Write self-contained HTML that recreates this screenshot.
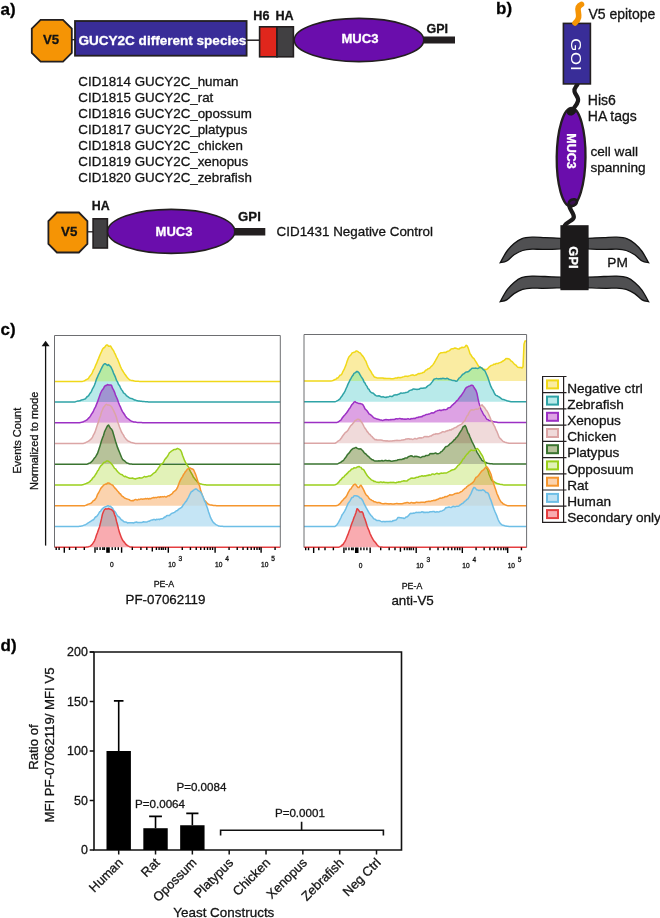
<!DOCTYPE html>
<html><head><meta charset="utf-8"><title>Figure</title>
<style>
html,body{margin:0;padding:0;background:#fff;width:660px;height:918px;overflow:hidden}
svg{display:block}
text{font-family:'Liberation Sans',Arial,Helvetica,sans-serif;fill:#141414;stroke:#141414;stroke-width:0.3px}
.w{stroke:#fff}
.b{font-weight:bold}
.pl{font-weight:bold;font-size:17px;fill:#000}
.w{fill:#fff}
.o{fill:none !important;stroke:#fff;stroke-width:0.75px}
</style></head><body>
<svg width="660" height="918" viewBox="0 0 660 918">
<rect width="660" height="918" fill="#fff"/>
<text x="0.5" y="14.8" class="pl">a)</text>
<line x1="72" y1="39.7" x2="75" y2="39.7" stroke="#231f20" stroke-width="1.3"/>
<line x1="247" y1="40.2" x2="259.5" y2="40.2" stroke="#231f20" stroke-width="1.5"/>
<path d="M40.6,19.8 L63.0,19.8 L71.8,28.6 L71.8,52.8 L63.0,61.6 L40.6,61.6 L31.8,52.8 L31.8,28.6 Z" fill="#f59405" stroke="#231f20" stroke-width="1.8"/>
<text x="51.1" y="44.3" class="b" style="font-size:13.2px" text-anchor="middle">V5</text>
<rect x="75" y="21" width="171.6" height="34.7" fill="#392d98" stroke="#231f20" stroke-width="1.8"/>
<text x="78.4" y="44.5" class="b w" style="font-size:13.55px">GUCY2C different species</text>
<rect x="259.6" y="26.8" width="17.4" height="30" fill="#e0261c" stroke="#231f20" stroke-width="1.6"/>
<rect x="277" y="26.8" width="16.4" height="30" fill="#414042" stroke="#231f20" stroke-width="1.6"/>
<text x="253.3" y="20" class="b" style="font-size:12.6px">H6</text>
<text x="275.5" y="20" class="b" style="font-size:12.6px">HA</text>
<rect x="420" y="36.5" width="35" height="7" fill="#231f20"/>
<ellipse cx="359" cy="40" rx="64.8" ry="21.6" fill="#6a0dac" stroke="#231f20" stroke-width="1.6"/>
<text x="360" y="42.7" class="b w" style="font-size:13.1px" text-anchor="middle">MUC3</text>
<text x="426.5" y="33" class="b" style="font-size:12.5px">GPI</text>
<text x="78.3" y="86.0" style="font-size:13.35px">CID1814 GUCY2C_human</text>
<text x="78.3" y="102.0" style="font-size:13.35px">CID1815 GUCY2C_rat</text>
<text x="78.3" y="118.1" style="font-size:13.35px">CID1816 GUCY2C_opossum</text>
<text x="78.3" y="134.2" style="font-size:13.35px">CID1817 GUCY2C_platypus</text>
<text x="78.3" y="150.2" style="font-size:13.35px">CID1818 GUCY2C_chicken</text>
<text x="78.3" y="166.2" style="font-size:13.35px">CID1819 GUCY2C_xenopus</text>
<text x="78.3" y="182.3" style="font-size:13.35px">CID1820 GUCY2C_zebrafish</text>
<line x1="88" y1="231.8" x2="93" y2="231.8" stroke="#231f20" stroke-width="1.3"/>
<path d="M56.9,212.5 L78.9,212.5 L87.4,221.0 L87.4,244.0 L78.9,252.5 L56.9,252.5 L48.4,244.0 L48.4,221.0 Z" fill="#f59405" stroke="#231f20" stroke-width="1.8"/>
<text x="69.2" y="235.9" class="b" style="font-size:13.3px" text-anchor="middle">V5</text>
<rect x="230" y="228" width="35.3" height="7.5" fill="#231f20"/>
<rect x="93.1" y="218.8" width="14.3" height="29.2" fill="#414042" stroke="#231f20" stroke-width="1.6"/>
<ellipse cx="171.2" cy="231.4" rx="63.6" ry="22" fill="#6a0dac" stroke="#231f20" stroke-width="1.6"/>
<text x="174" y="235.9" class="b w" style="font-size:13px" text-anchor="middle">MUC3</text>
<text x="91.8" y="210.2" class="b" style="font-size:12.4px">HA</text>
<text x="238.1" y="220.5" class="b" style="font-size:13.2px">GPI</text>
<text x="276.6" y="236.3" style="font-size:13.4px">CID1431 Negative Control</text>
<text x="496" y="13.6" class="pl">b)</text>
<path d="M561.00,238.30 C558.33,238.18 549.82,237.78 545.00,237.60 C540.18,237.42 536.02,237.00 532.10,237.20 C528.18,237.40 524.50,237.73 521.50,238.80 C518.50,239.87 516.57,241.48 514.10,243.60 C511.63,245.72 509.00,248.33 506.70,251.50 C504.40,254.67 501.37,260.75 500.30,262.60 L500.30,262.60 C501.37,262.33 504.40,262.32 506.70,261.00 C509.00,259.68 511.45,256.45 514.10,254.70 C516.75,252.95 519.60,251.42 522.60,250.50 C525.60,249.58 528.75,249.38 532.10,249.20 C535.45,249.02 537.88,249.45 542.70,249.40 C547.52,249.35 557.95,248.98 561.00,248.90 Z" fill="#505052" stroke="#111" stroke-width="1.3"/>
<path d="M587.80,238.30 C590.47,238.18 598.98,237.78 603.80,237.60 C608.62,237.42 612.78,237.00 616.70,237.20 C620.62,237.40 624.30,237.73 627.30,238.80 C630.30,239.87 632.23,241.48 634.70,243.60 C637.17,245.72 639.80,248.33 642.10,251.50 C644.40,254.67 647.43,260.75 648.50,262.60 L648.50,262.60 C647.43,262.33 644.40,262.32 642.10,261.00 C639.80,259.68 637.35,256.45 634.70,254.70 C632.05,252.95 629.20,251.42 626.20,250.50 C623.20,249.58 620.05,249.38 616.70,249.20 C613.35,249.02 610.92,249.45 606.10,249.40 C601.28,249.35 590.85,248.98 587.80,248.90 Z" fill="#505052" stroke="#111" stroke-width="1.3"/>
<path d="M561.00,277.20 C558.33,277.08 549.82,276.68 545.00,276.50 C540.18,276.32 536.02,275.90 532.10,276.10 C528.18,276.30 524.50,276.63 521.50,277.70 C518.50,278.77 516.57,280.38 514.10,282.50 C511.63,284.62 509.00,287.23 506.70,290.40 C504.40,293.57 501.37,299.65 500.30,301.50 L500.30,301.50 C501.37,301.23 504.40,301.22 506.70,299.90 C509.00,298.58 511.45,295.35 514.10,293.60 C516.75,291.85 519.60,290.32 522.60,289.40 C525.60,288.48 528.75,288.28 532.10,288.10 C535.45,287.92 537.88,288.35 542.70,288.30 C547.52,288.25 557.95,287.88 561.00,287.80 Z" fill="#505052" stroke="#111" stroke-width="1.3"/>
<path d="M587.80,277.20 C590.47,277.08 598.98,276.68 603.80,276.50 C608.62,276.32 612.78,275.90 616.70,276.10 C620.62,276.30 624.30,276.63 627.30,277.70 C630.30,278.77 632.23,280.38 634.70,282.50 C637.17,284.62 639.80,287.23 642.10,290.40 C644.40,293.57 647.43,299.65 648.50,301.50 L648.50,301.50 C647.43,301.23 644.40,301.22 642.10,299.90 C639.80,298.58 637.35,295.35 634.70,293.60 C632.05,291.85 629.20,290.32 626.20,289.40 C623.20,288.48 620.05,288.28 616.70,288.10 C613.35,287.92 610.92,288.35 606.10,288.30 C601.28,288.25 590.85,287.88 587.80,287.80 Z" fill="#505052" stroke="#111" stroke-width="1.3"/>
<rect x="560.4" y="225.2" width="28.2" height="65" fill="#1c1a1b"/>
<text transform="translate(569,246.2) rotate(90)" class="b w" style="font-size:13px">GPI</text>
<text x="607.3" y="267" style="font-size:13.7px">PM</text>
<path d="M569.3,205 C569,210 574.5,213 573.8,217.5 C573,221 566,222 564.5,226" fill="none" stroke="#1c1a1b" stroke-width="4.2" stroke-linecap="round"/>
<ellipse cx="571.1" cy="157.2" rx="14.4" ry="49.2" fill="#6a0dac" stroke="#231f20" stroke-width="2.3" transform="rotate(0.6 571.1 157.2)"/>
<ellipse cx="572.8" cy="202.6" rx="4.3" ry="3.1" fill="#3a1050" stroke="#1c1a1b" stroke-width="2.6" transform="rotate(-25 572.8 202.6)"/>
<ellipse cx="571.5" cy="111.5" rx="4.2" ry="3" fill="#1c1a1b" stroke="#1c1a1b" stroke-width="1.5" transform="rotate(-25 571.5 111.5)"/>
<text transform="translate(567,133.3) rotate(90)" class="b w" style="font-size:12.5px">MUC3</text>
<path d="M577.7,84 C576,87 573.8,88 574.5,91.5 C575.2,95 579,97 578,101 C577,106 572,109 571,113" fill="none" stroke="#1c1a1b" stroke-width="4.2" stroke-linecap="round"/>
<rect x="563.4" y="23.4" width="27" height="60.5" fill="#392d98" stroke="#231f20" stroke-width="1.6"/>
<text transform="translate(570.8,38.2) rotate(90) scale(1.17,1)" class="w" style="font-size:14.4px;letter-spacing:0.7px;stroke:none">GOI</text>
<path d="M581.5,4.3 C578.5,5.5 577.5,8.5 578.3,12 C579,16 579.5,19 575,23" fill="none" stroke="#f59405" stroke-width="5.6" stroke-linecap="round"/>
<text x="588.4" y="18.8" style="font-size:14px">V5 epitope</text>
<text x="587.8" y="104.7" style="font-size:14px">His6</text>
<text x="587.8" y="121.4" style="font-size:14px">HA tags</text>
<text x="590.4" y="155.8" style="font-size:13.6px">cell wall</text>
<text x="590.4" y="172.3" style="font-size:13.6px">spanning</text>
<text x="0.5" y="335.3" class="pl">c)</text>
<g>
<path d="M54.5,381.4 L55.5,381.4 L56.5,381.4 L57.5,381.4 L58.5,381.4 L59.5,381.4 L60.5,381.4 L61.5,381.4 L62.5,381.4 L63.5,381.4 L64.5,381.4 L65.5,381.4 L66.5,381.4 L67.5,381.4 L68.5,381.4 L69.5,381.4 L70.5,381.4 L71.5,381.4 L72.5,381.4 L73.5,381.4 L74.5,381.4 L75.5,381.4 L76.5,381.4 L77.5,381.4 L78.5,381.4 L79.5,381.4 L80.5,381.4 L81.5,381.4 L82.5,381.4 L83.5,381.1 L84.5,380.8 L85.5,380.1 L86.5,379.5 L87.5,379.1 L88.5,378.3 L89.5,376.6 L90.5,375.4 L91.5,374.1 L92.5,372.3 L93.5,369.8 L94.5,368.3 L95.5,365.7 L96.5,363.7 L97.5,360.9 L98.5,358.6 L99.5,356.1 L100.5,353.7 L101.5,351.6 L102.5,349.2 L103.5,348.0 L104.5,347.5 L105.5,346.1 L106.5,344.9 L107.5,344.9 L108.5,346.3 L109.5,346.2 L110.5,345.9 L111.5,347.6 L112.5,349.3 L113.5,350.6 L114.5,352.8 L115.5,354.7 L116.5,357.3 L117.5,358.9 L118.5,361.5 L119.5,364.1 L120.5,366.6 L121.5,368.8 L122.5,370.5 L123.5,372.2 L124.5,373.7 L125.5,375.0 L126.5,376.5 L127.5,377.8 L128.5,378.8 L129.5,379.7 L130.5,380.1 L131.5,380.4 L132.5,380.6 L133.5,380.8 L134.5,381.1 L135.5,381.2 L136.5,381.2 L137.5,381.3 L138.5,381.3 L139.5,381.4 L140.5,381.4 L141.5,381.4 L142.5,381.4 L143.5,381.4 L144.5,381.4 L145.5,381.4 L146.5,381.4 L147.5,381.4 L148.5,381.4 L149.5,381.4 L150.5,381.4 L151.5,381.4 L152.5,381.4 L153.5,381.4 L154.5,381.4 L155.5,381.4 L156.5,381.4 L157.5,381.4 L158.5,381.4 L159.5,381.4 L160.5,381.4 L161.5,381.4 L162.5,381.4 L163.5,381.4 L164.5,381.4 L165.5,381.4 L166.5,381.4 L167.5,381.4 L168.5,381.4 L169.5,381.4 L170.5,381.4 L171.5,381.4 L172.5,381.4 L173.5,381.4 L174.5,381.4 L175.5,381.4 L176.5,381.4 L177.5,381.4 L178.5,381.4 L179.5,381.4 L180.5,381.4 L181.5,381.4 L182.5,381.4 L183.5,381.4 L184.5,381.4 L185.5,381.4 L186.5,381.4 L187.5,381.4 L188.5,381.4 L189.5,381.4 L190.5,381.4 L191.5,381.4 L192.5,381.4 L193.5,381.4 L194.5,381.4 L195.5,381.4 L196.5,381.4 L197.5,381.4 L198.5,381.4 L199.5,381.4 L200.5,381.4 L201.5,381.4 L202.5,381.4 L203.5,381.4 L204.5,381.4 L205.5,381.4 L206.5,381.4 L207.5,381.4 L208.5,381.4 L209.5,381.4 L210.5,381.4 L211.5,381.4 L212.5,381.4 L213.5,381.4 L214.5,381.4 L215.5,381.4 L216.5,381.4 L217.5,381.4 L218.5,381.4 L219.5,381.4 L220.5,381.4 L221.5,381.4 L222.5,381.4 L223.5,381.4 L224.5,381.4 L225.5,381.4 L226.5,381.4 L227.5,381.4 L228.5,381.4 L229.5,381.4 L230.5,381.4 L231.5,381.4 L232.5,381.4 L233.5,381.4 L234.5,381.4 L235.5,381.4 L236.5,381.4 L237.5,381.4 L238.5,381.4 L239.5,381.4 L240.5,381.4 L241.5,381.4 L242.5,381.4 L243.5,381.4 L244.5,381.4 L245.5,381.4 L246.5,381.4 L247.5,381.4 L248.5,381.4 L249.5,381.4 L250.5,381.4 L251.5,381.4 L252.5,381.4 L253.5,381.4 L254.5,381.4 L255.5,381.4 L256.5,381.4 L257.5,381.4 L258.5,381.4 L259.5,381.4 L260.5,381.4 L261.5,381.4 L262.5,381.4 L263.5,381.4 L264.5,381.4 L265.5,381.4 L266.5,381.4 L267.5,381.4 L268.5,381.4 L269.5,381.4 L270.5,381.4 L271.5,381.4 L272.5,381.4 L273.5,381.4 L274.5,381.4 L275.5,381.4 L276.5,381.4 L277.5,381.4 L278.5,381.4 L279.5,381.4 L280.3,381.4 L280.30,381.40 L54.50,381.40 Z" fill="#faeca2" style="mix-blend-mode:darken"/>
<path d="M54.5,381.4 L55.5,381.4 L56.5,381.4 L57.5,381.4 L58.5,381.4 L59.5,381.4 L60.5,381.4 L61.5,381.4 L62.5,381.4 L63.5,381.4 L64.5,381.4 L65.5,381.4 L66.5,381.4 L67.5,381.4 L68.5,381.4 L69.5,381.4 L70.5,381.4 L71.5,381.4 L72.5,381.4 L73.5,381.4 L74.5,381.4 L75.5,381.4 L76.5,381.4 L77.5,381.4 L78.5,381.4 L79.5,381.4 L80.5,381.4 L81.5,381.4 L82.5,381.4 L83.5,381.1 L84.5,380.8 L85.5,380.1 L86.5,379.5 L87.5,379.1 L88.5,378.3 L89.5,376.6 L90.5,375.4 L91.5,374.1 L92.5,372.3 L93.5,369.8 L94.5,368.3 L95.5,365.7 L96.5,363.7 L97.5,360.9 L98.5,358.6 L99.5,356.1 L100.5,353.7 L101.5,351.6 L102.5,349.2 L103.5,348.0 L104.5,347.5 L105.5,346.1 L106.5,344.9 L107.5,344.9 L108.5,346.3 L109.5,346.2 L110.5,345.9 L111.5,347.6 L112.5,349.3 L113.5,350.6 L114.5,352.8 L115.5,354.7 L116.5,357.3 L117.5,358.9 L118.5,361.5 L119.5,364.1 L120.5,366.6 L121.5,368.8 L122.5,370.5 L123.5,372.2 L124.5,373.7 L125.5,375.0 L126.5,376.5 L127.5,377.8 L128.5,378.8 L129.5,379.7 L130.5,380.1 L131.5,380.4 L132.5,380.6 L133.5,380.8 L134.5,381.1 L135.5,381.2 L136.5,381.2 L137.5,381.3 L138.5,381.3 L139.5,381.4 L140.5,381.4 L141.5,381.4 L142.5,381.4 L143.5,381.4 L144.5,381.4 L145.5,381.4 L146.5,381.4 L147.5,381.4 L148.5,381.4 L149.5,381.4 L150.5,381.4 L151.5,381.4 L152.5,381.4 L153.5,381.4 L154.5,381.4 L155.5,381.4 L156.5,381.4 L157.5,381.4 L158.5,381.4 L159.5,381.4 L160.5,381.4 L161.5,381.4 L162.5,381.4 L163.5,381.4 L164.5,381.4 L165.5,381.4 L166.5,381.4 L167.5,381.4 L168.5,381.4 L169.5,381.4 L170.5,381.4 L171.5,381.4 L172.5,381.4 L173.5,381.4 L174.5,381.4 L175.5,381.4 L176.5,381.4 L177.5,381.4 L178.5,381.4 L179.5,381.4 L180.5,381.4 L181.5,381.4 L182.5,381.4 L183.5,381.4 L184.5,381.4 L185.5,381.4 L186.5,381.4 L187.5,381.4 L188.5,381.4 L189.5,381.4 L190.5,381.4 L191.5,381.4 L192.5,381.4 L193.5,381.4 L194.5,381.4 L195.5,381.4 L196.5,381.4 L197.5,381.4 L198.5,381.4 L199.5,381.4 L200.5,381.4 L201.5,381.4 L202.5,381.4 L203.5,381.4 L204.5,381.4 L205.5,381.4 L206.5,381.4 L207.5,381.4 L208.5,381.4 L209.5,381.4 L210.5,381.4 L211.5,381.4 L212.5,381.4 L213.5,381.4 L214.5,381.4 L215.5,381.4 L216.5,381.4 L217.5,381.4 L218.5,381.4 L219.5,381.4 L220.5,381.4 L221.5,381.4 L222.5,381.4 L223.5,381.4 L224.5,381.4 L225.5,381.4 L226.5,381.4 L227.5,381.4 L228.5,381.4 L229.5,381.4 L230.5,381.4 L231.5,381.4 L232.5,381.4 L233.5,381.4 L234.5,381.4 L235.5,381.4 L236.5,381.4 L237.5,381.4 L238.5,381.4 L239.5,381.4 L240.5,381.4 L241.5,381.4 L242.5,381.4 L243.5,381.4 L244.5,381.4 L245.5,381.4 L246.5,381.4 L247.5,381.4 L248.5,381.4 L249.5,381.4 L250.5,381.4 L251.5,381.4 L252.5,381.4 L253.5,381.4 L254.5,381.4 L255.5,381.4 L256.5,381.4 L257.5,381.4 L258.5,381.4 L259.5,381.4 L260.5,381.4 L261.5,381.4 L262.5,381.4 L263.5,381.4 L264.5,381.4 L265.5,381.4 L266.5,381.4 L267.5,381.4 L268.5,381.4 L269.5,381.4 L270.5,381.4 L271.5,381.4 L272.5,381.4 L273.5,381.4 L274.5,381.4 L275.5,381.4 L276.5,381.4 L277.5,381.4 L278.5,381.4 L279.5,381.4 L280.3,381.4" fill="none" stroke="#f0d818" stroke-width="1.5" stroke-linejoin="round"/>
<path d="M54.5,402.1 L55.5,402.1 L56.5,402.1 L57.5,402.1 L58.5,402.1 L59.5,402.1 L60.5,402.1 L61.5,402.1 L62.5,402.1 L63.5,402.1 L64.5,402.1 L65.5,402.1 L66.5,402.1 L67.5,402.1 L68.5,402.1 L69.5,402.1 L70.5,402.1 L71.5,402.1 L72.5,402.1 L73.5,402.0 L74.5,401.9 L75.5,401.7 L76.5,401.4 L77.5,401.1 L78.5,400.9 L79.5,400.8 L80.5,400.5 L81.5,399.9 L82.5,399.8 L83.5,399.6 L84.5,399.1 L85.5,398.8 L86.5,397.4 L87.5,396.4 L88.5,395.8 L89.5,394.1 L90.5,392.8 L91.5,391.3 L92.5,388.8 L93.5,387.2 L94.5,385.0 L95.5,382.2 L96.5,379.1 L97.5,376.9 L98.5,374.5 L99.5,372.6 L100.5,370.5 L101.5,368.3 L102.5,366.3 L103.5,364.7 L104.5,363.7 L105.5,363.7 L106.5,364.7 L107.5,365.4 L108.5,364.6 L109.5,365.6 L110.5,366.4 L111.5,368.2 L112.5,370.3 L113.5,373.1 L114.5,375.1 L115.5,377.4 L116.5,380.3 L117.5,381.8 L118.5,384.4 L119.5,385.6 L120.5,387.8 L121.5,389.6 L122.5,390.9 L123.5,392.8 L124.5,393.5 L125.5,394.3 L126.5,395.9 L127.5,396.3 L128.5,397.1 L129.5,397.8 L130.5,398.3 L131.5,398.6 L132.5,398.8 L133.5,399.4 L134.5,400.0 L135.5,400.1 L136.5,400.5 L137.5,400.7 L138.5,400.9 L139.5,401.0 L140.5,401.2 L141.5,401.2 L142.5,401.4 L143.5,401.4 L144.5,401.6 L145.5,401.7 L146.5,401.7 L147.5,401.8 L148.5,401.9 L149.5,401.9 L150.5,401.9 L151.5,402.0 L152.5,402.0 L153.5,402.0 L154.5,402.1 L155.5,402.1 L156.5,402.1 L157.5,402.1 L158.5,402.1 L159.5,402.1 L160.5,402.1 L161.5,402.1 L162.5,402.1 L163.5,402.1 L164.5,402.1 L165.5,402.1 L166.5,402.1 L167.5,402.1 L168.5,402.1 L169.5,402.1 L170.5,402.1 L171.5,402.1 L172.5,402.1 L173.5,402.1 L174.5,402.1 L175.5,402.1 L176.5,402.1 L177.5,402.1 L178.5,402.1 L179.5,402.1 L180.5,402.1 L181.5,402.1 L182.5,402.1 L183.5,402.1 L184.5,402.1 L185.5,402.1 L186.5,402.1 L187.5,402.1 L188.5,402.1 L189.5,402.1 L190.5,402.1 L191.5,402.1 L192.5,402.1 L193.5,402.1 L194.5,402.1 L195.5,402.1 L196.5,402.1 L197.5,402.1 L198.5,402.1 L199.5,402.1 L200.5,402.1 L201.5,402.1 L202.5,402.1 L203.5,402.1 L204.5,402.1 L205.5,402.1 L206.5,402.1 L207.5,402.1 L208.5,402.1 L209.5,402.1 L210.5,402.1 L211.5,402.1 L212.5,402.1 L213.5,402.1 L214.5,402.1 L215.5,402.1 L216.5,402.1 L217.5,402.1 L218.5,402.1 L219.5,402.1 L220.5,402.1 L221.5,402.1 L222.5,402.1 L223.5,402.1 L224.5,402.1 L225.5,402.1 L226.5,402.1 L227.5,402.1 L228.5,402.1 L229.5,402.1 L230.5,402.1 L231.5,402.1 L232.5,402.1 L233.5,402.1 L234.5,402.1 L235.5,402.1 L236.5,402.1 L237.5,402.1 L238.5,402.1 L239.5,402.1 L240.5,402.1 L241.5,402.1 L242.5,402.1 L243.5,402.1 L244.5,402.1 L245.5,402.1 L246.5,402.1 L247.5,402.1 L248.5,402.1 L249.5,402.1 L250.5,402.1 L251.5,402.1 L252.5,402.1 L253.5,402.1 L254.5,402.1 L255.5,402.1 L256.5,402.1 L257.5,402.1 L258.5,402.1 L259.5,402.1 L260.5,402.1 L261.5,402.1 L262.5,402.1 L263.5,402.1 L264.5,402.1 L265.5,402.1 L266.5,402.1 L267.5,402.1 L268.5,402.1 L269.5,402.1 L270.5,402.1 L271.5,402.1 L272.5,402.1 L273.5,402.1 L274.5,402.1 L275.5,402.1 L276.5,402.1 L277.5,402.1 L278.5,402.1 L279.5,402.1 L280.3,402.1 L280.30,402.12 L54.50,402.12 Z" fill="#b8eaea" style="mix-blend-mode:darken"/>
<path d="M54.5,402.1 L55.5,402.1 L56.5,402.1 L57.5,402.1 L58.5,402.1 L59.5,402.1 L60.5,402.1 L61.5,402.1 L62.5,402.1 L63.5,402.1 L64.5,402.1 L65.5,402.1 L66.5,402.1 L67.5,402.1 L68.5,402.1 L69.5,402.1 L70.5,402.1 L71.5,402.1 L72.5,402.1 L73.5,402.0 L74.5,401.9 L75.5,401.7 L76.5,401.4 L77.5,401.1 L78.5,400.9 L79.5,400.8 L80.5,400.5 L81.5,399.9 L82.5,399.8 L83.5,399.6 L84.5,399.1 L85.5,398.8 L86.5,397.4 L87.5,396.4 L88.5,395.8 L89.5,394.1 L90.5,392.8 L91.5,391.3 L92.5,388.8 L93.5,387.2 L94.5,385.0 L95.5,382.2 L96.5,379.1 L97.5,376.9 L98.5,374.5 L99.5,372.6 L100.5,370.5 L101.5,368.3 L102.5,366.3 L103.5,364.7 L104.5,363.7 L105.5,363.7 L106.5,364.7 L107.5,365.4 L108.5,364.6 L109.5,365.6 L110.5,366.4 L111.5,368.2 L112.5,370.3 L113.5,373.1 L114.5,375.1 L115.5,377.4 L116.5,380.3 L117.5,381.8 L118.5,384.4 L119.5,385.6 L120.5,387.8 L121.5,389.6 L122.5,390.9 L123.5,392.8 L124.5,393.5 L125.5,394.3 L126.5,395.9 L127.5,396.3 L128.5,397.1 L129.5,397.8 L130.5,398.3 L131.5,398.6 L132.5,398.8 L133.5,399.4 L134.5,400.0 L135.5,400.1 L136.5,400.5 L137.5,400.7 L138.5,400.9 L139.5,401.0 L140.5,401.2 L141.5,401.2 L142.5,401.4 L143.5,401.4 L144.5,401.6 L145.5,401.7 L146.5,401.7 L147.5,401.8 L148.5,401.9 L149.5,401.9 L150.5,401.9 L151.5,402.0 L152.5,402.0 L153.5,402.0 L154.5,402.1 L155.5,402.1 L156.5,402.1 L157.5,402.1 L158.5,402.1 L159.5,402.1 L160.5,402.1 L161.5,402.1 L162.5,402.1 L163.5,402.1 L164.5,402.1 L165.5,402.1 L166.5,402.1 L167.5,402.1 L168.5,402.1 L169.5,402.1 L170.5,402.1 L171.5,402.1 L172.5,402.1 L173.5,402.1 L174.5,402.1 L175.5,402.1 L176.5,402.1 L177.5,402.1 L178.5,402.1 L179.5,402.1 L180.5,402.1 L181.5,402.1 L182.5,402.1 L183.5,402.1 L184.5,402.1 L185.5,402.1 L186.5,402.1 L187.5,402.1 L188.5,402.1 L189.5,402.1 L190.5,402.1 L191.5,402.1 L192.5,402.1 L193.5,402.1 L194.5,402.1 L195.5,402.1 L196.5,402.1 L197.5,402.1 L198.5,402.1 L199.5,402.1 L200.5,402.1 L201.5,402.1 L202.5,402.1 L203.5,402.1 L204.5,402.1 L205.5,402.1 L206.5,402.1 L207.5,402.1 L208.5,402.1 L209.5,402.1 L210.5,402.1 L211.5,402.1 L212.5,402.1 L213.5,402.1 L214.5,402.1 L215.5,402.1 L216.5,402.1 L217.5,402.1 L218.5,402.1 L219.5,402.1 L220.5,402.1 L221.5,402.1 L222.5,402.1 L223.5,402.1 L224.5,402.1 L225.5,402.1 L226.5,402.1 L227.5,402.1 L228.5,402.1 L229.5,402.1 L230.5,402.1 L231.5,402.1 L232.5,402.1 L233.5,402.1 L234.5,402.1 L235.5,402.1 L236.5,402.1 L237.5,402.1 L238.5,402.1 L239.5,402.1 L240.5,402.1 L241.5,402.1 L242.5,402.1 L243.5,402.1 L244.5,402.1 L245.5,402.1 L246.5,402.1 L247.5,402.1 L248.5,402.1 L249.5,402.1 L250.5,402.1 L251.5,402.1 L252.5,402.1 L253.5,402.1 L254.5,402.1 L255.5,402.1 L256.5,402.1 L257.5,402.1 L258.5,402.1 L259.5,402.1 L260.5,402.1 L261.5,402.1 L262.5,402.1 L263.5,402.1 L264.5,402.1 L265.5,402.1 L266.5,402.1 L267.5,402.1 L268.5,402.1 L269.5,402.1 L270.5,402.1 L271.5,402.1 L272.5,402.1 L273.5,402.1 L274.5,402.1 L275.5,402.1 L276.5,402.1 L277.5,402.1 L278.5,402.1 L279.5,402.1 L280.3,402.1" fill="none" stroke="#2ea3a6" stroke-width="1.5" stroke-linejoin="round"/>
<path d="M54.5,422.8 L55.5,422.8 L56.5,422.8 L57.5,422.8 L58.5,422.8 L59.5,422.8 L60.5,422.8 L61.5,422.8 L62.5,422.8 L63.5,422.8 L64.5,422.8 L65.5,422.8 L66.5,422.8 L67.5,422.8 L68.5,422.8 L69.5,422.8 L70.5,422.8 L71.5,422.8 L72.5,422.8 L73.5,422.8 L74.5,422.8 L75.5,422.8 L76.5,422.8 L77.5,422.8 L78.5,422.8 L79.5,422.7 L80.5,422.5 L81.5,422.3 L82.5,422.0 L83.5,421.7 L84.5,421.1 L85.5,420.7 L86.5,420.1 L87.5,419.3 L88.5,418.2 L89.5,417.4 L90.5,415.8 L91.5,414.1 L92.5,412.8 L93.5,410.8 L94.5,408.6 L95.5,406.9 L96.5,404.4 L97.5,401.9 L98.5,399.1 L99.5,396.3 L100.5,393.3 L101.5,391.2 L102.5,389.7 L103.5,388.5 L104.5,386.4 L105.5,385.6 L106.5,385.4 L107.5,384.5 L108.5,384.9 L109.5,385.1 L110.5,385.1 L111.5,385.3 L112.5,388.2 L113.5,389.8 L114.5,392.1 L115.5,395.1 L116.5,397.2 L117.5,399.5 L118.5,402.4 L119.5,405.0 L120.5,407.1 L121.5,409.7 L122.5,411.6 L123.5,413.0 L124.5,414.5 L125.5,416.1 L126.5,417.5 L127.5,418.3 L128.5,419.0 L129.5,419.8 L130.5,420.7 L131.5,421.2 L132.5,421.4 L133.5,421.9 L134.5,421.9 L135.5,422.1 L136.5,422.3 L137.5,422.4 L138.5,422.5 L139.5,422.5 L140.5,422.6 L141.5,422.6 L142.5,422.7 L143.5,422.7 L144.5,422.7 L145.5,422.8 L146.5,422.8 L147.5,422.8 L148.5,422.8 L149.5,422.8 L150.5,422.8 L151.5,422.8 L152.5,422.8 L153.5,422.8 L154.5,422.8 L155.5,422.8 L156.5,422.8 L157.5,422.8 L158.5,422.8 L159.5,422.8 L160.5,422.8 L161.5,422.8 L162.5,422.8 L163.5,422.8 L164.5,422.8 L165.5,422.8 L166.5,422.8 L167.5,422.8 L168.5,422.8 L169.5,422.8 L170.5,422.8 L171.5,422.8 L172.5,422.8 L173.5,422.8 L174.5,422.8 L175.5,422.8 L176.5,422.8 L177.5,422.8 L178.5,422.8 L179.5,422.8 L180.5,422.8 L181.5,422.8 L182.5,422.8 L183.5,422.8 L184.5,422.8 L185.5,422.8 L186.5,422.8 L187.5,422.8 L188.5,422.8 L189.5,422.8 L190.5,422.8 L191.5,422.8 L192.5,422.8 L193.5,422.8 L194.5,422.8 L195.5,422.8 L196.5,422.8 L197.5,422.8 L198.5,422.8 L199.5,422.8 L200.5,422.8 L201.5,422.8 L202.5,422.8 L203.5,422.8 L204.5,422.8 L205.5,422.8 L206.5,422.8 L207.5,422.8 L208.5,422.8 L209.5,422.8 L210.5,422.8 L211.5,422.8 L212.5,422.8 L213.5,422.8 L214.5,422.8 L215.5,422.8 L216.5,422.8 L217.5,422.8 L218.5,422.8 L219.5,422.8 L220.5,422.8 L221.5,422.8 L222.5,422.8 L223.5,422.8 L224.5,422.8 L225.5,422.8 L226.5,422.8 L227.5,422.8 L228.5,422.8 L229.5,422.8 L230.5,422.8 L231.5,422.8 L232.5,422.8 L233.5,422.8 L234.5,422.8 L235.5,422.8 L236.5,422.8 L237.5,422.8 L238.5,422.8 L239.5,422.8 L240.5,422.8 L241.5,422.8 L242.5,422.8 L243.5,422.8 L244.5,422.8 L245.5,422.8 L246.5,422.8 L247.5,422.8 L248.5,422.8 L249.5,422.8 L250.5,422.8 L251.5,422.8 L252.5,422.8 L253.5,422.8 L254.5,422.8 L255.5,422.8 L256.5,422.8 L257.5,422.8 L258.5,422.8 L259.5,422.8 L260.5,422.8 L261.5,422.8 L262.5,422.8 L263.5,422.8 L264.5,422.8 L265.5,422.8 L266.5,422.8 L267.5,422.8 L268.5,422.8 L269.5,422.8 L270.5,422.8 L271.5,422.8 L272.5,422.8 L273.5,422.8 L274.5,422.8 L275.5,422.8 L276.5,422.8 L277.5,422.8 L278.5,422.8 L279.5,422.8 L280.3,422.8 L280.30,422.84 L54.50,422.84 Z" fill="#dda2e4" style="mix-blend-mode:multiply"/>
<path d="M54.5,422.8 L55.5,422.8 L56.5,422.8 L57.5,422.8 L58.5,422.8 L59.5,422.8 L60.5,422.8 L61.5,422.8 L62.5,422.8 L63.5,422.8 L64.5,422.8 L65.5,422.8 L66.5,422.8 L67.5,422.8 L68.5,422.8 L69.5,422.8 L70.5,422.8 L71.5,422.8 L72.5,422.8 L73.5,422.8 L74.5,422.8 L75.5,422.8 L76.5,422.8 L77.5,422.8 L78.5,422.8 L79.5,422.7 L80.5,422.5 L81.5,422.3 L82.5,422.0 L83.5,421.7 L84.5,421.1 L85.5,420.7 L86.5,420.1 L87.5,419.3 L88.5,418.2 L89.5,417.4 L90.5,415.8 L91.5,414.1 L92.5,412.8 L93.5,410.8 L94.5,408.6 L95.5,406.9 L96.5,404.4 L97.5,401.9 L98.5,399.1 L99.5,396.3 L100.5,393.3 L101.5,391.2 L102.5,389.7 L103.5,388.5 L104.5,386.4 L105.5,385.6 L106.5,385.4 L107.5,384.5 L108.5,384.9 L109.5,385.1 L110.5,385.1 L111.5,385.3 L112.5,388.2 L113.5,389.8 L114.5,392.1 L115.5,395.1 L116.5,397.2 L117.5,399.5 L118.5,402.4 L119.5,405.0 L120.5,407.1 L121.5,409.7 L122.5,411.6 L123.5,413.0 L124.5,414.5 L125.5,416.1 L126.5,417.5 L127.5,418.3 L128.5,419.0 L129.5,419.8 L130.5,420.7 L131.5,421.2 L132.5,421.4 L133.5,421.9 L134.5,421.9 L135.5,422.1 L136.5,422.3 L137.5,422.4 L138.5,422.5 L139.5,422.5 L140.5,422.6 L141.5,422.6 L142.5,422.7 L143.5,422.7 L144.5,422.7 L145.5,422.8 L146.5,422.8 L147.5,422.8 L148.5,422.8 L149.5,422.8 L150.5,422.8 L151.5,422.8 L152.5,422.8 L153.5,422.8 L154.5,422.8 L155.5,422.8 L156.5,422.8 L157.5,422.8 L158.5,422.8 L159.5,422.8 L160.5,422.8 L161.5,422.8 L162.5,422.8 L163.5,422.8 L164.5,422.8 L165.5,422.8 L166.5,422.8 L167.5,422.8 L168.5,422.8 L169.5,422.8 L170.5,422.8 L171.5,422.8 L172.5,422.8 L173.5,422.8 L174.5,422.8 L175.5,422.8 L176.5,422.8 L177.5,422.8 L178.5,422.8 L179.5,422.8 L180.5,422.8 L181.5,422.8 L182.5,422.8 L183.5,422.8 L184.5,422.8 L185.5,422.8 L186.5,422.8 L187.5,422.8 L188.5,422.8 L189.5,422.8 L190.5,422.8 L191.5,422.8 L192.5,422.8 L193.5,422.8 L194.5,422.8 L195.5,422.8 L196.5,422.8 L197.5,422.8 L198.5,422.8 L199.5,422.8 L200.5,422.8 L201.5,422.8 L202.5,422.8 L203.5,422.8 L204.5,422.8 L205.5,422.8 L206.5,422.8 L207.5,422.8 L208.5,422.8 L209.5,422.8 L210.5,422.8 L211.5,422.8 L212.5,422.8 L213.5,422.8 L214.5,422.8 L215.5,422.8 L216.5,422.8 L217.5,422.8 L218.5,422.8 L219.5,422.8 L220.5,422.8 L221.5,422.8 L222.5,422.8 L223.5,422.8 L224.5,422.8 L225.5,422.8 L226.5,422.8 L227.5,422.8 L228.5,422.8 L229.5,422.8 L230.5,422.8 L231.5,422.8 L232.5,422.8 L233.5,422.8 L234.5,422.8 L235.5,422.8 L236.5,422.8 L237.5,422.8 L238.5,422.8 L239.5,422.8 L240.5,422.8 L241.5,422.8 L242.5,422.8 L243.5,422.8 L244.5,422.8 L245.5,422.8 L246.5,422.8 L247.5,422.8 L248.5,422.8 L249.5,422.8 L250.5,422.8 L251.5,422.8 L252.5,422.8 L253.5,422.8 L254.5,422.8 L255.5,422.8 L256.5,422.8 L257.5,422.8 L258.5,422.8 L259.5,422.8 L260.5,422.8 L261.5,422.8 L262.5,422.8 L263.5,422.8 L264.5,422.8 L265.5,422.8 L266.5,422.8 L267.5,422.8 L268.5,422.8 L269.5,422.8 L270.5,422.8 L271.5,422.8 L272.5,422.8 L273.5,422.8 L274.5,422.8 L275.5,422.8 L276.5,422.8 L277.5,422.8 L278.5,422.8 L279.5,422.8 L280.3,422.8" fill="none" stroke="#9c30c4" stroke-width="1.5" stroke-linejoin="round"/>
<path d="M54.5,443.6 L55.5,443.6 L56.5,443.6 L57.5,443.6 L58.5,443.6 L59.5,443.6 L60.5,443.6 L61.5,443.6 L62.5,443.6 L63.5,443.6 L64.5,443.6 L65.5,443.6 L66.5,443.6 L67.5,443.6 L68.5,443.6 L69.5,443.6 L70.5,443.6 L71.5,443.6 L72.5,443.6 L73.5,443.6 L74.5,443.6 L75.5,443.6 L76.5,443.6 L77.5,443.6 L78.5,443.6 L79.5,443.6 L80.5,443.6 L81.5,443.6 L82.5,443.5 L83.5,443.4 L84.5,443.0 L85.5,442.7 L86.5,442.2 L87.5,441.7 L88.5,441.2 L89.5,440.4 L90.5,439.5 L91.5,438.6 L92.5,437.1 L93.5,434.8 L94.5,433.2 L95.5,430.6 L96.5,427.6 L97.5,424.4 L98.5,421.9 L99.5,418.3 L100.5,415.7 L101.5,412.0 L102.5,409.8 L103.5,407.4 L104.5,406.2 L105.5,404.9 L106.5,404.3 L107.5,405.0 L108.5,404.9 L109.5,405.2 L110.5,405.8 L111.5,406.7 L112.5,408.7 L113.5,410.4 L114.5,412.6 L115.5,414.8 L116.5,417.7 L117.5,421.4 L118.5,424.1 L119.5,427.0 L120.5,429.5 L121.5,432.0 L122.5,433.6 L123.5,435.1 L124.5,437.1 L125.5,438.4 L126.5,439.6 L127.5,440.5 L128.5,441.3 L129.5,441.5 L130.5,442.2 L131.5,442.6 L132.5,442.8 L133.5,443.0 L134.5,443.2 L135.5,443.4 L136.5,443.5 L137.5,443.6 L138.5,443.6 L139.5,443.6 L140.5,443.6 L141.5,443.6 L142.5,443.6 L143.5,443.6 L144.5,443.6 L145.5,443.6 L146.5,443.6 L147.5,443.6 L148.5,443.6 L149.5,443.6 L150.5,443.6 L151.5,443.6 L152.5,443.6 L153.5,443.6 L154.5,443.6 L155.5,443.6 L156.5,443.6 L157.5,443.6 L158.5,443.6 L159.5,443.6 L160.5,443.6 L161.5,443.6 L162.5,443.6 L163.5,443.6 L164.5,443.6 L165.5,443.6 L166.5,443.6 L167.5,443.6 L168.5,443.6 L169.5,443.6 L170.5,443.6 L171.5,443.6 L172.5,443.6 L173.5,443.6 L174.5,443.6 L175.5,443.6 L176.5,443.6 L177.5,443.6 L178.5,443.6 L179.5,443.6 L180.5,443.6 L181.5,443.6 L182.5,443.6 L183.5,443.6 L184.5,443.6 L185.5,443.6 L186.5,443.6 L187.5,443.6 L188.5,443.6 L189.5,443.6 L190.5,443.6 L191.5,443.6 L192.5,443.6 L193.5,443.6 L194.5,443.6 L195.5,443.6 L196.5,443.6 L197.5,443.6 L198.5,443.6 L199.5,443.6 L200.5,443.6 L201.5,443.6 L202.5,443.6 L203.5,443.6 L204.5,443.6 L205.5,443.6 L206.5,443.6 L207.5,443.6 L208.5,443.6 L209.5,443.6 L210.5,443.6 L211.5,443.6 L212.5,443.6 L213.5,443.6 L214.5,443.6 L215.5,443.6 L216.5,443.6 L217.5,443.6 L218.5,443.6 L219.5,443.6 L220.5,443.6 L221.5,443.6 L222.5,443.6 L223.5,443.6 L224.5,443.6 L225.5,443.6 L226.5,443.6 L227.5,443.6 L228.5,443.6 L229.5,443.6 L230.5,443.6 L231.5,443.6 L232.5,443.6 L233.5,443.6 L234.5,443.6 L235.5,443.6 L236.5,443.6 L237.5,443.6 L238.5,443.6 L239.5,443.6 L240.5,443.6 L241.5,443.6 L242.5,443.6 L243.5,443.6 L244.5,443.6 L245.5,443.6 L246.5,443.6 L247.5,443.6 L248.5,443.6 L249.5,443.6 L250.5,443.6 L251.5,443.6 L252.5,443.6 L253.5,443.6 L254.5,443.6 L255.5,443.6 L256.5,443.6 L257.5,443.6 L258.5,443.6 L259.5,443.6 L260.5,443.6 L261.5,443.6 L262.5,443.6 L263.5,443.6 L264.5,443.6 L265.5,443.6 L266.5,443.6 L267.5,443.6 L268.5,443.6 L269.5,443.6 L270.5,443.6 L271.5,443.6 L272.5,443.6 L273.5,443.6 L274.5,443.6 L275.5,443.6 L276.5,443.6 L277.5,443.6 L278.5,443.6 L279.5,443.6 L280.3,443.6 L280.30,443.56 L54.50,443.56 Z" fill="#f0dada" style="mix-blend-mode:darken"/>
<path d="M54.5,443.6 L55.5,443.6 L56.5,443.6 L57.5,443.6 L58.5,443.6 L59.5,443.6 L60.5,443.6 L61.5,443.6 L62.5,443.6 L63.5,443.6 L64.5,443.6 L65.5,443.6 L66.5,443.6 L67.5,443.6 L68.5,443.6 L69.5,443.6 L70.5,443.6 L71.5,443.6 L72.5,443.6 L73.5,443.6 L74.5,443.6 L75.5,443.6 L76.5,443.6 L77.5,443.6 L78.5,443.6 L79.5,443.6 L80.5,443.6 L81.5,443.6 L82.5,443.5 L83.5,443.4 L84.5,443.0 L85.5,442.7 L86.5,442.2 L87.5,441.7 L88.5,441.2 L89.5,440.4 L90.5,439.5 L91.5,438.6 L92.5,437.1 L93.5,434.8 L94.5,433.2 L95.5,430.6 L96.5,427.6 L97.5,424.4 L98.5,421.9 L99.5,418.3 L100.5,415.7 L101.5,412.0 L102.5,409.8 L103.5,407.4 L104.5,406.2 L105.5,404.9 L106.5,404.3 L107.5,405.0 L108.5,404.9 L109.5,405.2 L110.5,405.8 L111.5,406.7 L112.5,408.7 L113.5,410.4 L114.5,412.6 L115.5,414.8 L116.5,417.7 L117.5,421.4 L118.5,424.1 L119.5,427.0 L120.5,429.5 L121.5,432.0 L122.5,433.6 L123.5,435.1 L124.5,437.1 L125.5,438.4 L126.5,439.6 L127.5,440.5 L128.5,441.3 L129.5,441.5 L130.5,442.2 L131.5,442.6 L132.5,442.8 L133.5,443.0 L134.5,443.2 L135.5,443.4 L136.5,443.5 L137.5,443.6 L138.5,443.6 L139.5,443.6 L140.5,443.6 L141.5,443.6 L142.5,443.6 L143.5,443.6 L144.5,443.6 L145.5,443.6 L146.5,443.6 L147.5,443.6 L148.5,443.6 L149.5,443.6 L150.5,443.6 L151.5,443.6 L152.5,443.6 L153.5,443.6 L154.5,443.6 L155.5,443.6 L156.5,443.6 L157.5,443.6 L158.5,443.6 L159.5,443.6 L160.5,443.6 L161.5,443.6 L162.5,443.6 L163.5,443.6 L164.5,443.6 L165.5,443.6 L166.5,443.6 L167.5,443.6 L168.5,443.6 L169.5,443.6 L170.5,443.6 L171.5,443.6 L172.5,443.6 L173.5,443.6 L174.5,443.6 L175.5,443.6 L176.5,443.6 L177.5,443.6 L178.5,443.6 L179.5,443.6 L180.5,443.6 L181.5,443.6 L182.5,443.6 L183.5,443.6 L184.5,443.6 L185.5,443.6 L186.5,443.6 L187.5,443.6 L188.5,443.6 L189.5,443.6 L190.5,443.6 L191.5,443.6 L192.5,443.6 L193.5,443.6 L194.5,443.6 L195.5,443.6 L196.5,443.6 L197.5,443.6 L198.5,443.6 L199.5,443.6 L200.5,443.6 L201.5,443.6 L202.5,443.6 L203.5,443.6 L204.5,443.6 L205.5,443.6 L206.5,443.6 L207.5,443.6 L208.5,443.6 L209.5,443.6 L210.5,443.6 L211.5,443.6 L212.5,443.6 L213.5,443.6 L214.5,443.6 L215.5,443.6 L216.5,443.6 L217.5,443.6 L218.5,443.6 L219.5,443.6 L220.5,443.6 L221.5,443.6 L222.5,443.6 L223.5,443.6 L224.5,443.6 L225.5,443.6 L226.5,443.6 L227.5,443.6 L228.5,443.6 L229.5,443.6 L230.5,443.6 L231.5,443.6 L232.5,443.6 L233.5,443.6 L234.5,443.6 L235.5,443.6 L236.5,443.6 L237.5,443.6 L238.5,443.6 L239.5,443.6 L240.5,443.6 L241.5,443.6 L242.5,443.6 L243.5,443.6 L244.5,443.6 L245.5,443.6 L246.5,443.6 L247.5,443.6 L248.5,443.6 L249.5,443.6 L250.5,443.6 L251.5,443.6 L252.5,443.6 L253.5,443.6 L254.5,443.6 L255.5,443.6 L256.5,443.6 L257.5,443.6 L258.5,443.6 L259.5,443.6 L260.5,443.6 L261.5,443.6 L262.5,443.6 L263.5,443.6 L264.5,443.6 L265.5,443.6 L266.5,443.6 L267.5,443.6 L268.5,443.6 L269.5,443.6 L270.5,443.6 L271.5,443.6 L272.5,443.6 L273.5,443.6 L274.5,443.6 L275.5,443.6 L276.5,443.6 L277.5,443.6 L278.5,443.6 L279.5,443.6 L280.3,443.6" fill="none" stroke="#dba5a5" stroke-width="1.5" stroke-linejoin="round"/>
<path d="M54.5,464.3 L55.5,464.3 L56.5,464.3 L57.5,464.3 L58.5,464.3 L59.5,464.3 L60.5,464.3 L61.5,464.3 L62.5,464.3 L63.5,464.3 L64.5,464.3 L65.5,464.3 L66.5,464.3 L67.5,464.3 L68.5,464.3 L69.5,464.3 L70.5,464.3 L71.5,464.3 L72.5,464.3 L73.5,464.3 L74.5,464.3 L75.5,464.3 L76.5,464.3 L77.5,464.3 L78.5,464.3 L79.5,464.3 L80.5,464.3 L81.5,464.3 L82.5,464.3 L83.5,464.3 L84.5,464.3 L85.5,464.3 L86.5,464.2 L87.5,464.0 L88.5,463.5 L89.5,463.1 L90.5,462.7 L91.5,461.7 L92.5,460.7 L93.5,459.4 L94.5,458.0 L95.5,457.0 L96.5,455.2 L97.5,453.5 L98.5,450.5 L99.5,447.6 L100.5,444.3 L101.5,440.8 L102.5,437.9 L103.5,435.5 L104.5,431.9 L105.5,429.8 L106.5,427.7 L107.5,425.9 L108.5,425.0 L109.5,426.6 L110.5,428.3 L111.5,429.0 L112.5,430.8 L113.5,434.3 L114.5,437.6 L115.5,441.2 L116.5,444.3 L117.5,447.4 L118.5,449.9 L119.5,452.3 L120.5,454.7 L121.5,457.2 L122.5,459.3 L123.5,460.1 L124.5,460.8 L125.5,461.8 L126.5,462.7 L127.5,463.1 L128.5,463.5 L129.5,463.9 L130.5,464.0 L131.5,464.1 L132.5,464.2 L133.5,464.2 L134.5,464.3 L135.5,464.3 L136.5,464.3 L137.5,464.3 L138.5,464.3 L139.5,464.3 L140.5,464.3 L141.5,464.3 L142.5,464.3 L143.5,464.3 L144.5,464.3 L145.5,464.3 L146.5,464.3 L147.5,464.3 L148.5,464.3 L149.5,464.3 L150.5,464.3 L151.5,464.3 L152.5,464.3 L153.5,464.3 L154.5,464.3 L155.5,464.3 L156.5,464.3 L157.5,464.3 L158.5,464.3 L159.5,464.3 L160.5,464.3 L161.5,464.3 L162.5,464.3 L163.5,464.3 L164.5,464.3 L165.5,464.3 L166.5,464.3 L167.5,464.3 L168.5,464.3 L169.5,464.3 L170.5,464.3 L171.5,464.3 L172.5,464.3 L173.5,464.3 L174.5,464.3 L175.5,464.3 L176.5,464.3 L177.5,464.3 L178.5,464.3 L179.5,464.3 L180.5,464.3 L181.5,464.3 L182.5,464.3 L183.5,464.3 L184.5,464.3 L185.5,464.3 L186.5,464.3 L187.5,464.3 L188.5,464.3 L189.5,464.3 L190.5,464.3 L191.5,464.3 L192.5,464.3 L193.5,464.3 L194.5,464.3 L195.5,464.3 L196.5,464.3 L197.5,464.3 L198.5,464.3 L199.5,464.3 L200.5,464.3 L201.5,464.3 L202.5,464.3 L203.5,464.3 L204.5,464.3 L205.5,464.3 L206.5,464.3 L207.5,464.3 L208.5,464.3 L209.5,464.3 L210.5,464.3 L211.5,464.3 L212.5,464.3 L213.5,464.3 L214.5,464.3 L215.5,464.3 L216.5,464.3 L217.5,464.3 L218.5,464.3 L219.5,464.3 L220.5,464.3 L221.5,464.3 L222.5,464.3 L223.5,464.3 L224.5,464.3 L225.5,464.3 L226.5,464.3 L227.5,464.3 L228.5,464.3 L229.5,464.3 L230.5,464.3 L231.5,464.3 L232.5,464.3 L233.5,464.3 L234.5,464.3 L235.5,464.3 L236.5,464.3 L237.5,464.3 L238.5,464.3 L239.5,464.3 L240.5,464.3 L241.5,464.3 L242.5,464.3 L243.5,464.3 L244.5,464.3 L245.5,464.3 L246.5,464.3 L247.5,464.3 L248.5,464.3 L249.5,464.3 L250.5,464.3 L251.5,464.3 L252.5,464.3 L253.5,464.3 L254.5,464.3 L255.5,464.3 L256.5,464.3 L257.5,464.3 L258.5,464.3 L259.5,464.3 L260.5,464.3 L261.5,464.3 L262.5,464.3 L263.5,464.3 L264.5,464.3 L265.5,464.3 L266.5,464.3 L267.5,464.3 L268.5,464.3 L269.5,464.3 L270.5,464.3 L271.5,464.3 L272.5,464.3 L273.5,464.3 L274.5,464.3 L275.5,464.3 L276.5,464.3 L277.5,464.3 L278.5,464.3 L279.5,464.3 L280.3,464.3 L280.30,464.28 L54.50,464.28 Z" fill="#b7c29a" style="mix-blend-mode:multiply"/>
<path d="M54.5,464.3 L55.5,464.3 L56.5,464.3 L57.5,464.3 L58.5,464.3 L59.5,464.3 L60.5,464.3 L61.5,464.3 L62.5,464.3 L63.5,464.3 L64.5,464.3 L65.5,464.3 L66.5,464.3 L67.5,464.3 L68.5,464.3 L69.5,464.3 L70.5,464.3 L71.5,464.3 L72.5,464.3 L73.5,464.3 L74.5,464.3 L75.5,464.3 L76.5,464.3 L77.5,464.3 L78.5,464.3 L79.5,464.3 L80.5,464.3 L81.5,464.3 L82.5,464.3 L83.5,464.3 L84.5,464.3 L85.5,464.3 L86.5,464.2 L87.5,464.0 L88.5,463.5 L89.5,463.1 L90.5,462.7 L91.5,461.7 L92.5,460.7 L93.5,459.4 L94.5,458.0 L95.5,457.0 L96.5,455.2 L97.5,453.5 L98.5,450.5 L99.5,447.6 L100.5,444.3 L101.5,440.8 L102.5,437.9 L103.5,435.5 L104.5,431.9 L105.5,429.8 L106.5,427.7 L107.5,425.9 L108.5,425.0 L109.5,426.6 L110.5,428.3 L111.5,429.0 L112.5,430.8 L113.5,434.3 L114.5,437.6 L115.5,441.2 L116.5,444.3 L117.5,447.4 L118.5,449.9 L119.5,452.3 L120.5,454.7 L121.5,457.2 L122.5,459.3 L123.5,460.1 L124.5,460.8 L125.5,461.8 L126.5,462.7 L127.5,463.1 L128.5,463.5 L129.5,463.9 L130.5,464.0 L131.5,464.1 L132.5,464.2 L133.5,464.2 L134.5,464.3 L135.5,464.3 L136.5,464.3 L137.5,464.3 L138.5,464.3 L139.5,464.3 L140.5,464.3 L141.5,464.3 L142.5,464.3 L143.5,464.3 L144.5,464.3 L145.5,464.3 L146.5,464.3 L147.5,464.3 L148.5,464.3 L149.5,464.3 L150.5,464.3 L151.5,464.3 L152.5,464.3 L153.5,464.3 L154.5,464.3 L155.5,464.3 L156.5,464.3 L157.5,464.3 L158.5,464.3 L159.5,464.3 L160.5,464.3 L161.5,464.3 L162.5,464.3 L163.5,464.3 L164.5,464.3 L165.5,464.3 L166.5,464.3 L167.5,464.3 L168.5,464.3 L169.5,464.3 L170.5,464.3 L171.5,464.3 L172.5,464.3 L173.5,464.3 L174.5,464.3 L175.5,464.3 L176.5,464.3 L177.5,464.3 L178.5,464.3 L179.5,464.3 L180.5,464.3 L181.5,464.3 L182.5,464.3 L183.5,464.3 L184.5,464.3 L185.5,464.3 L186.5,464.3 L187.5,464.3 L188.5,464.3 L189.5,464.3 L190.5,464.3 L191.5,464.3 L192.5,464.3 L193.5,464.3 L194.5,464.3 L195.5,464.3 L196.5,464.3 L197.5,464.3 L198.5,464.3 L199.5,464.3 L200.5,464.3 L201.5,464.3 L202.5,464.3 L203.5,464.3 L204.5,464.3 L205.5,464.3 L206.5,464.3 L207.5,464.3 L208.5,464.3 L209.5,464.3 L210.5,464.3 L211.5,464.3 L212.5,464.3 L213.5,464.3 L214.5,464.3 L215.5,464.3 L216.5,464.3 L217.5,464.3 L218.5,464.3 L219.5,464.3 L220.5,464.3 L221.5,464.3 L222.5,464.3 L223.5,464.3 L224.5,464.3 L225.5,464.3 L226.5,464.3 L227.5,464.3 L228.5,464.3 L229.5,464.3 L230.5,464.3 L231.5,464.3 L232.5,464.3 L233.5,464.3 L234.5,464.3 L235.5,464.3 L236.5,464.3 L237.5,464.3 L238.5,464.3 L239.5,464.3 L240.5,464.3 L241.5,464.3 L242.5,464.3 L243.5,464.3 L244.5,464.3 L245.5,464.3 L246.5,464.3 L247.5,464.3 L248.5,464.3 L249.5,464.3 L250.5,464.3 L251.5,464.3 L252.5,464.3 L253.5,464.3 L254.5,464.3 L255.5,464.3 L256.5,464.3 L257.5,464.3 L258.5,464.3 L259.5,464.3 L260.5,464.3 L261.5,464.3 L262.5,464.3 L263.5,464.3 L264.5,464.3 L265.5,464.3 L266.5,464.3 L267.5,464.3 L268.5,464.3 L269.5,464.3 L270.5,464.3 L271.5,464.3 L272.5,464.3 L273.5,464.3 L274.5,464.3 L275.5,464.3 L276.5,464.3 L277.5,464.3 L278.5,464.3 L279.5,464.3 L280.3,464.3" fill="none" stroke="#3a7430" stroke-width="1.5" stroke-linejoin="round"/>
<path d="M54.5,485.0 L55.5,485.0 L56.5,485.0 L57.5,485.0 L58.5,485.0 L59.5,485.0 L60.5,485.0 L61.5,485.0 L62.5,485.0 L63.5,485.0 L64.5,485.0 L65.5,485.0 L66.5,485.0 L67.5,485.0 L68.5,485.0 L69.5,485.0 L70.5,485.0 L71.5,485.0 L72.5,485.0 L73.5,485.0 L74.5,485.0 L75.5,485.0 L76.5,485.0 L77.5,485.0 L78.5,485.0 L79.5,485.0 L80.5,485.0 L81.5,484.9 L82.5,484.7 L83.5,484.5 L84.5,484.1 L85.5,483.8 L86.5,483.3 L87.5,483.1 L88.5,482.4 L89.5,481.9 L90.5,480.7 L91.5,480.0 L92.5,478.3 L93.5,477.4 L94.5,476.3 L95.5,474.5 L96.5,473.2 L97.5,471.0 L98.5,469.9 L99.5,467.8 L100.5,466.1 L101.5,465.2 L102.5,464.3 L103.5,462.9 L104.5,462.2 L105.5,462.0 L106.5,461.0 L107.5,461.0 L108.5,461.2 L109.5,462.2 L110.5,462.7 L111.5,464.0 L112.5,465.1 L113.5,466.7 L114.5,468.3 L115.5,468.8 L116.5,470.2 L117.5,471.5 L118.5,472.5 L119.5,473.5 L120.5,474.2 L121.5,474.4 L122.5,475.0 L123.5,476.0 L124.5,476.7 L125.5,476.2 L126.5,477.1 L127.5,477.3 L128.5,477.8 L129.5,478.2 L130.5,478.3 L131.5,478.3 L132.5,478.0 L133.5,478.6 L134.5,478.7 L135.5,479.0 L136.5,478.4 L137.5,478.3 L138.5,478.1 L139.5,477.7 L140.5,478.1 L141.5,477.9 L142.5,477.7 L143.5,477.1 L144.5,476.4 L145.5,476.9 L146.5,476.7 L147.5,476.6 L148.5,476.1 L149.5,476.1 L150.5,475.9 L151.5,475.2 L152.5,474.2 L153.5,473.3 L154.5,472.7 L155.5,472.1 L156.5,470.3 L157.5,469.5 L158.5,467.7 L159.5,466.5 L160.5,464.9 L161.5,464.4 L162.5,463.4 L163.5,462.2 L164.5,460.0 L165.5,458.6 L166.5,457.6 L167.5,456.3 L168.5,454.5 L169.5,452.7 L170.5,452.0 L171.5,450.9 L172.5,450.6 L173.5,449.7 L174.5,449.4 L175.5,449.5 L176.5,449.0 L177.5,448.4 L178.5,448.9 L179.5,449.4 L180.5,450.2 L181.5,452.0 L182.5,455.2 L183.5,457.7 L184.5,460.4 L185.5,462.3 L186.5,464.3 L187.5,465.7 L188.5,467.0 L189.5,469.6 L190.5,471.6 L191.5,473.3 L192.5,475.1 L193.5,477.4 L194.5,478.3 L195.5,479.9 L196.5,480.7 L197.5,482.1 L198.5,483.0 L199.5,483.4 L200.5,483.9 L201.5,484.1 L202.5,484.4 L203.5,484.6 L204.5,484.7 L205.5,484.8 L206.5,484.9 L207.5,484.9 L208.5,485.0 L209.5,485.0 L210.5,485.0 L211.5,485.0 L212.5,485.0 L213.5,485.0 L214.5,485.0 L215.5,485.0 L216.5,485.0 L217.5,485.0 L218.5,485.0 L219.5,485.0 L220.5,485.0 L221.5,485.0 L222.5,485.0 L223.5,485.0 L224.5,485.0 L225.5,485.0 L226.5,485.0 L227.5,485.0 L228.5,485.0 L229.5,485.0 L230.5,485.0 L231.5,485.0 L232.5,485.0 L233.5,485.0 L234.5,485.0 L235.5,485.0 L236.5,485.0 L237.5,485.0 L238.5,485.0 L239.5,485.0 L240.5,485.0 L241.5,485.0 L242.5,485.0 L243.5,485.0 L244.5,485.0 L245.5,485.0 L246.5,485.0 L247.5,485.0 L248.5,485.0 L249.5,485.0 L250.5,485.0 L251.5,485.0 L252.5,485.0 L253.5,485.0 L254.5,485.0 L255.5,485.0 L256.5,485.0 L257.5,485.0 L258.5,485.0 L259.5,485.0 L260.5,485.0 L261.5,485.0 L262.5,485.0 L263.5,485.0 L264.5,485.0 L265.5,485.0 L266.5,485.0 L267.5,485.0 L268.5,485.0 L269.5,485.0 L270.5,485.0 L271.5,485.0 L272.5,485.0 L273.5,485.0 L274.5,485.0 L275.5,485.0 L276.5,485.0 L277.5,485.0 L278.5,485.0 L279.5,485.0 L280.3,485.0 L280.30,485.00 L54.50,485.00 Z" fill="#e2f2b8" style="mix-blend-mode:darken"/>
<path d="M54.5,485.0 L55.5,485.0 L56.5,485.0 L57.5,485.0 L58.5,485.0 L59.5,485.0 L60.5,485.0 L61.5,485.0 L62.5,485.0 L63.5,485.0 L64.5,485.0 L65.5,485.0 L66.5,485.0 L67.5,485.0 L68.5,485.0 L69.5,485.0 L70.5,485.0 L71.5,485.0 L72.5,485.0 L73.5,485.0 L74.5,485.0 L75.5,485.0 L76.5,485.0 L77.5,485.0 L78.5,485.0 L79.5,485.0 L80.5,485.0 L81.5,484.9 L82.5,484.7 L83.5,484.5 L84.5,484.1 L85.5,483.8 L86.5,483.3 L87.5,483.1 L88.5,482.4 L89.5,481.9 L90.5,480.7 L91.5,480.0 L92.5,478.3 L93.5,477.4 L94.5,476.3 L95.5,474.5 L96.5,473.2 L97.5,471.0 L98.5,469.9 L99.5,467.8 L100.5,466.1 L101.5,465.2 L102.5,464.3 L103.5,462.9 L104.5,462.2 L105.5,462.0 L106.5,461.0 L107.5,461.0 L108.5,461.2 L109.5,462.2 L110.5,462.7 L111.5,464.0 L112.5,465.1 L113.5,466.7 L114.5,468.3 L115.5,468.8 L116.5,470.2 L117.5,471.5 L118.5,472.5 L119.5,473.5 L120.5,474.2 L121.5,474.4 L122.5,475.0 L123.5,476.0 L124.5,476.7 L125.5,476.2 L126.5,477.1 L127.5,477.3 L128.5,477.8 L129.5,478.2 L130.5,478.3 L131.5,478.3 L132.5,478.0 L133.5,478.6 L134.5,478.7 L135.5,479.0 L136.5,478.4 L137.5,478.3 L138.5,478.1 L139.5,477.7 L140.5,478.1 L141.5,477.9 L142.5,477.7 L143.5,477.1 L144.5,476.4 L145.5,476.9 L146.5,476.7 L147.5,476.6 L148.5,476.1 L149.5,476.1 L150.5,475.9 L151.5,475.2 L152.5,474.2 L153.5,473.3 L154.5,472.7 L155.5,472.1 L156.5,470.3 L157.5,469.5 L158.5,467.7 L159.5,466.5 L160.5,464.9 L161.5,464.4 L162.5,463.4 L163.5,462.2 L164.5,460.0 L165.5,458.6 L166.5,457.6 L167.5,456.3 L168.5,454.5 L169.5,452.7 L170.5,452.0 L171.5,450.9 L172.5,450.6 L173.5,449.7 L174.5,449.4 L175.5,449.5 L176.5,449.0 L177.5,448.4 L178.5,448.9 L179.5,449.4 L180.5,450.2 L181.5,452.0 L182.5,455.2 L183.5,457.7 L184.5,460.4 L185.5,462.3 L186.5,464.3 L187.5,465.7 L188.5,467.0 L189.5,469.6 L190.5,471.6 L191.5,473.3 L192.5,475.1 L193.5,477.4 L194.5,478.3 L195.5,479.9 L196.5,480.7 L197.5,482.1 L198.5,483.0 L199.5,483.4 L200.5,483.9 L201.5,484.1 L202.5,484.4 L203.5,484.6 L204.5,484.7 L205.5,484.8 L206.5,484.9 L207.5,484.9 L208.5,485.0 L209.5,485.0 L210.5,485.0 L211.5,485.0 L212.5,485.0 L213.5,485.0 L214.5,485.0 L215.5,485.0 L216.5,485.0 L217.5,485.0 L218.5,485.0 L219.5,485.0 L220.5,485.0 L221.5,485.0 L222.5,485.0 L223.5,485.0 L224.5,485.0 L225.5,485.0 L226.5,485.0 L227.5,485.0 L228.5,485.0 L229.5,485.0 L230.5,485.0 L231.5,485.0 L232.5,485.0 L233.5,485.0 L234.5,485.0 L235.5,485.0 L236.5,485.0 L237.5,485.0 L238.5,485.0 L239.5,485.0 L240.5,485.0 L241.5,485.0 L242.5,485.0 L243.5,485.0 L244.5,485.0 L245.5,485.0 L246.5,485.0 L247.5,485.0 L248.5,485.0 L249.5,485.0 L250.5,485.0 L251.5,485.0 L252.5,485.0 L253.5,485.0 L254.5,485.0 L255.5,485.0 L256.5,485.0 L257.5,485.0 L258.5,485.0 L259.5,485.0 L260.5,485.0 L261.5,485.0 L262.5,485.0 L263.5,485.0 L264.5,485.0 L265.5,485.0 L266.5,485.0 L267.5,485.0 L268.5,485.0 L269.5,485.0 L270.5,485.0 L271.5,485.0 L272.5,485.0 L273.5,485.0 L274.5,485.0 L275.5,485.0 L276.5,485.0 L277.5,485.0 L278.5,485.0 L279.5,485.0 L280.3,485.0" fill="none" stroke="#9acf1c" stroke-width="1.5" stroke-linejoin="round"/>
<path d="M54.5,505.7 L55.5,505.7 L56.5,505.7 L57.5,505.7 L58.5,505.7 L59.5,505.7 L60.5,505.7 L61.5,505.7 L62.5,505.7 L63.5,505.7 L64.5,505.7 L65.5,505.7 L66.5,505.7 L67.5,505.7 L68.5,505.7 L69.5,505.7 L70.5,505.7 L71.5,505.7 L72.5,505.7 L73.5,505.7 L74.5,505.7 L75.5,505.7 L76.5,505.7 L77.5,505.7 L78.5,505.7 L79.5,505.7 L80.5,505.7 L81.5,505.7 L82.5,505.7 L83.5,505.7 L84.5,505.7 L85.5,505.4 L86.5,505.0 L87.5,504.5 L88.5,504.1 L89.5,503.8 L90.5,503.4 L91.5,502.8 L92.5,501.7 L93.5,500.4 L94.5,500.2 L95.5,498.8 L96.5,497.3 L97.5,494.4 L98.5,493.0 L99.5,491.0 L100.5,489.0 L101.5,487.4 L102.5,486.6 L103.5,485.1 L104.5,484.6 L105.5,484.1 L106.5,484.0 L107.5,483.1 L108.5,483.1 L109.5,483.2 L110.5,484.2 L111.5,484.7 L112.5,484.9 L113.5,486.3 L114.5,487.6 L115.5,488.6 L116.5,489.8 L117.5,491.0 L118.5,492.0 L119.5,493.5 L120.5,494.0 L121.5,495.6 L122.5,496.4 L123.5,497.0 L124.5,498.0 L125.5,498.3 L126.5,498.8 L127.5,499.1 L128.5,499.4 L129.5,499.8 L130.5,500.6 L131.5,500.7 L132.5,500.5 L133.5,500.7 L134.5,499.9 L135.5,499.4 L136.5,499.8 L137.5,500.0 L138.5,499.3 L139.5,499.6 L140.5,499.1 L141.5,498.9 L142.5,499.3 L143.5,499.0 L144.5,498.9 L145.5,498.5 L146.5,498.9 L147.5,498.4 L148.5,499.0 L149.5,498.5 L150.5,498.7 L151.5,498.3 L152.5,497.9 L153.5,497.5 L154.5,497.8 L155.5,497.4 L156.5,497.7 L157.5,497.2 L158.5,496.9 L159.5,497.4 L160.5,496.7 L161.5,496.9 L162.5,496.6 L163.5,496.9 L164.5,496.4 L165.5,496.9 L166.5,496.9 L167.5,496.2 L168.5,495.7 L169.5,495.7 L170.5,494.6 L171.5,494.3 L172.5,493.2 L173.5,491.8 L174.5,491.2 L175.5,490.4 L176.5,489.2 L177.5,487.5 L178.5,484.7 L179.5,482.1 L180.5,479.9 L181.5,478.2 L182.5,476.6 L183.5,474.6 L184.5,473.1 L185.5,471.5 L186.5,470.4 L187.5,468.9 L188.5,468.7 L189.5,468.0 L190.5,468.0 L191.5,468.8 L192.5,469.0 L193.5,469.6 L194.5,471.8 L195.5,474.1 L196.5,477.0 L197.5,480.3 L198.5,483.5 L199.5,485.8 L200.5,489.7 L201.5,493.1 L202.5,495.7 L203.5,498.7 L204.5,500.4 L205.5,501.3 L206.5,502.5 L207.5,503.6 L208.5,504.1 L209.5,504.6 L210.5,504.9 L211.5,505.1 L212.5,505.3 L213.5,505.5 L214.5,505.6 L215.5,505.6 L216.5,505.7 L217.5,505.7 L218.5,505.7 L219.5,505.7 L220.5,505.7 L221.5,505.7 L222.5,505.7 L223.5,505.7 L224.5,505.7 L225.5,505.7 L226.5,505.7 L227.5,505.7 L228.5,505.7 L229.5,505.7 L230.5,505.7 L231.5,505.7 L232.5,505.7 L233.5,505.7 L234.5,505.7 L235.5,505.7 L236.5,505.7 L237.5,505.7 L238.5,505.7 L239.5,505.7 L240.5,505.7 L241.5,505.7 L242.5,505.7 L243.5,505.7 L244.5,505.7 L245.5,505.7 L246.5,505.7 L247.5,505.7 L248.5,505.7 L249.5,505.7 L250.5,505.7 L251.5,505.7 L252.5,505.7 L253.5,505.7 L254.5,505.7 L255.5,505.7 L256.5,505.7 L257.5,505.7 L258.5,505.7 L259.5,505.7 L260.5,505.7 L261.5,505.7 L262.5,505.7 L263.5,505.7 L264.5,505.7 L265.5,505.7 L266.5,505.7 L267.5,505.7 L268.5,505.7 L269.5,505.7 L270.5,505.7 L271.5,505.7 L272.5,505.7 L273.5,505.7 L274.5,505.7 L275.5,505.7 L276.5,505.7 L277.5,505.7 L278.5,505.7 L279.5,505.7 L280.3,505.7 L280.30,505.72 L54.50,505.72 Z" fill="#fbd3ae" style="mix-blend-mode:multiply"/>
<path d="M54.5,505.7 L55.5,505.7 L56.5,505.7 L57.5,505.7 L58.5,505.7 L59.5,505.7 L60.5,505.7 L61.5,505.7 L62.5,505.7 L63.5,505.7 L64.5,505.7 L65.5,505.7 L66.5,505.7 L67.5,505.7 L68.5,505.7 L69.5,505.7 L70.5,505.7 L71.5,505.7 L72.5,505.7 L73.5,505.7 L74.5,505.7 L75.5,505.7 L76.5,505.7 L77.5,505.7 L78.5,505.7 L79.5,505.7 L80.5,505.7 L81.5,505.7 L82.5,505.7 L83.5,505.7 L84.5,505.7 L85.5,505.4 L86.5,505.0 L87.5,504.5 L88.5,504.1 L89.5,503.8 L90.5,503.4 L91.5,502.8 L92.5,501.7 L93.5,500.4 L94.5,500.2 L95.5,498.8 L96.5,497.3 L97.5,494.4 L98.5,493.0 L99.5,491.0 L100.5,489.0 L101.5,487.4 L102.5,486.6 L103.5,485.1 L104.5,484.6 L105.5,484.1 L106.5,484.0 L107.5,483.1 L108.5,483.1 L109.5,483.2 L110.5,484.2 L111.5,484.7 L112.5,484.9 L113.5,486.3 L114.5,487.6 L115.5,488.6 L116.5,489.8 L117.5,491.0 L118.5,492.0 L119.5,493.5 L120.5,494.0 L121.5,495.6 L122.5,496.4 L123.5,497.0 L124.5,498.0 L125.5,498.3 L126.5,498.8 L127.5,499.1 L128.5,499.4 L129.5,499.8 L130.5,500.6 L131.5,500.7 L132.5,500.5 L133.5,500.7 L134.5,499.9 L135.5,499.4 L136.5,499.8 L137.5,500.0 L138.5,499.3 L139.5,499.6 L140.5,499.1 L141.5,498.9 L142.5,499.3 L143.5,499.0 L144.5,498.9 L145.5,498.5 L146.5,498.9 L147.5,498.4 L148.5,499.0 L149.5,498.5 L150.5,498.7 L151.5,498.3 L152.5,497.9 L153.5,497.5 L154.5,497.8 L155.5,497.4 L156.5,497.7 L157.5,497.2 L158.5,496.9 L159.5,497.4 L160.5,496.7 L161.5,496.9 L162.5,496.6 L163.5,496.9 L164.5,496.4 L165.5,496.9 L166.5,496.9 L167.5,496.2 L168.5,495.7 L169.5,495.7 L170.5,494.6 L171.5,494.3 L172.5,493.2 L173.5,491.8 L174.5,491.2 L175.5,490.4 L176.5,489.2 L177.5,487.5 L178.5,484.7 L179.5,482.1 L180.5,479.9 L181.5,478.2 L182.5,476.6 L183.5,474.6 L184.5,473.1 L185.5,471.5 L186.5,470.4 L187.5,468.9 L188.5,468.7 L189.5,468.0 L190.5,468.0 L191.5,468.8 L192.5,469.0 L193.5,469.6 L194.5,471.8 L195.5,474.1 L196.5,477.0 L197.5,480.3 L198.5,483.5 L199.5,485.8 L200.5,489.7 L201.5,493.1 L202.5,495.7 L203.5,498.7 L204.5,500.4 L205.5,501.3 L206.5,502.5 L207.5,503.6 L208.5,504.1 L209.5,504.6 L210.5,504.9 L211.5,505.1 L212.5,505.3 L213.5,505.5 L214.5,505.6 L215.5,505.6 L216.5,505.7 L217.5,505.7 L218.5,505.7 L219.5,505.7 L220.5,505.7 L221.5,505.7 L222.5,505.7 L223.5,505.7 L224.5,505.7 L225.5,505.7 L226.5,505.7 L227.5,505.7 L228.5,505.7 L229.5,505.7 L230.5,505.7 L231.5,505.7 L232.5,505.7 L233.5,505.7 L234.5,505.7 L235.5,505.7 L236.5,505.7 L237.5,505.7 L238.5,505.7 L239.5,505.7 L240.5,505.7 L241.5,505.7 L242.5,505.7 L243.5,505.7 L244.5,505.7 L245.5,505.7 L246.5,505.7 L247.5,505.7 L248.5,505.7 L249.5,505.7 L250.5,505.7 L251.5,505.7 L252.5,505.7 L253.5,505.7 L254.5,505.7 L255.5,505.7 L256.5,505.7 L257.5,505.7 L258.5,505.7 L259.5,505.7 L260.5,505.7 L261.5,505.7 L262.5,505.7 L263.5,505.7 L264.5,505.7 L265.5,505.7 L266.5,505.7 L267.5,505.7 L268.5,505.7 L269.5,505.7 L270.5,505.7 L271.5,505.7 L272.5,505.7 L273.5,505.7 L274.5,505.7 L275.5,505.7 L276.5,505.7 L277.5,505.7 L278.5,505.7 L279.5,505.7 L280.3,505.7" fill="none" stroke="#f5962e" stroke-width="1.5" stroke-linejoin="round"/>
<path d="M54.5,526.4 L55.5,526.4 L56.5,526.4 L57.5,526.4 L58.5,526.4 L59.5,526.4 L60.5,526.4 L61.5,526.4 L62.5,526.4 L63.5,526.4 L64.5,526.4 L65.5,526.4 L66.5,526.4 L67.5,526.4 L68.5,526.4 L69.5,526.4 L70.5,526.4 L71.5,526.4 L72.5,526.4 L73.5,526.4 L74.5,526.4 L75.5,526.4 L76.5,526.4 L77.5,526.4 L78.5,526.4 L79.5,526.3 L80.5,526.2 L81.5,525.9 L82.5,525.7 L83.5,525.4 L84.5,524.9 L85.5,524.7 L86.5,524.2 L87.5,523.3 L88.5,522.7 L89.5,522.2 L90.5,521.4 L91.5,520.9 L92.5,520.0 L93.5,519.8 L94.5,518.3 L95.5,517.0 L96.5,516.5 L97.5,515.4 L98.5,513.8 L99.5,512.0 L100.5,511.4 L101.5,509.7 L102.5,508.6 L103.5,507.7 L104.5,507.2 L105.5,506.7 L106.5,506.4 L107.5,505.8 L108.5,505.8 L109.5,506.5 L110.5,506.2 L111.5,507.2 L112.5,508.1 L113.5,509.8 L114.5,511.4 L115.5,512.4 L116.5,514.2 L117.5,515.8 L118.5,516.6 L119.5,517.4 L120.5,518.8 L121.5,520.0 L122.5,520.2 L123.5,521.5 L124.5,521.9 L125.5,522.0 L126.5,522.2 L127.5,523.0 L128.5,522.7 L129.5,522.7 L130.5,522.7 L131.5,522.7 L132.5,522.7 L133.5,523.1 L134.5,522.4 L135.5,522.2 L136.5,522.0 L137.5,522.5 L138.5,522.6 L139.5,522.6 L140.5,522.5 L141.5,522.4 L142.5,522.3 L143.5,521.7 L144.5,522.0 L145.5,522.1 L146.5,522.0 L147.5,521.7 L148.5,521.2 L149.5,521.2 L150.5,520.4 L151.5,520.1 L152.5,520.0 L153.5,519.5 L154.5,519.4 L155.5,520.1 L156.5,519.3 L157.5,519.4 L158.5,519.2 L159.5,519.7 L160.5,518.9 L161.5,518.7 L162.5,518.7 L163.5,518.1 L164.5,517.1 L165.5,517.1 L166.5,515.8 L167.5,515.5 L168.5,515.4 L169.5,515.4 L170.5,514.3 L171.5,513.5 L172.5,513.1 L173.5,512.7 L174.5,512.4 L175.5,511.5 L176.5,510.7 L177.5,510.5 L178.5,509.3 L179.5,508.5 L180.5,508.2 L181.5,507.4 L182.5,506.2 L183.5,504.5 L184.5,503.4 L185.5,501.9 L186.5,500.9 L187.5,498.9 L188.5,497.3 L189.5,495.0 L190.5,493.2 L191.5,491.4 L192.5,491.2 L193.5,490.1 L194.5,489.6 L195.5,489.0 L196.5,489.0 L197.5,490.0 L198.5,490.9 L199.5,491.2 L200.5,492.1 L201.5,493.5 L202.5,495.7 L203.5,497.9 L204.5,500.9 L205.5,502.6 L206.5,505.7 L207.5,508.3 L208.5,511.8 L209.5,514.5 L210.5,517.4 L211.5,519.5 L212.5,521.2 L213.5,522.6 L214.5,523.4 L215.5,524.3 L216.5,524.9 L217.5,525.4 L218.5,525.9 L219.5,526.1 L220.5,526.2 L221.5,526.3 L222.5,526.3 L223.5,526.4 L224.5,526.4 L225.5,526.4 L226.5,526.4 L227.5,526.4 L228.5,526.4 L229.5,526.4 L230.5,526.4 L231.5,526.4 L232.5,526.4 L233.5,526.4 L234.5,526.4 L235.5,526.4 L236.5,526.4 L237.5,526.4 L238.5,526.4 L239.5,526.4 L240.5,526.4 L241.5,526.4 L242.5,526.4 L243.5,526.4 L244.5,526.4 L245.5,526.4 L246.5,526.4 L247.5,526.4 L248.5,526.4 L249.5,526.4 L250.5,526.4 L251.5,526.4 L252.5,526.4 L253.5,526.4 L254.5,526.4 L255.5,526.4 L256.5,526.4 L257.5,526.4 L258.5,526.4 L259.5,526.4 L260.5,526.4 L261.5,526.4 L262.5,526.4 L263.5,526.4 L264.5,526.4 L265.5,526.4 L266.5,526.4 L267.5,526.4 L268.5,526.4 L269.5,526.4 L270.5,526.4 L271.5,526.4 L272.5,526.4 L273.5,526.4 L274.5,526.4 L275.5,526.4 L276.5,526.4 L277.5,526.4 L278.5,526.4 L279.5,526.4 L280.3,526.4 L280.30,526.44 L54.50,526.44 Z" fill="#b5def2" fill-opacity="0.78"/>
<path d="M54.5,526.4 L55.5,526.4 L56.5,526.4 L57.5,526.4 L58.5,526.4 L59.5,526.4 L60.5,526.4 L61.5,526.4 L62.5,526.4 L63.5,526.4 L64.5,526.4 L65.5,526.4 L66.5,526.4 L67.5,526.4 L68.5,526.4 L69.5,526.4 L70.5,526.4 L71.5,526.4 L72.5,526.4 L73.5,526.4 L74.5,526.4 L75.5,526.4 L76.5,526.4 L77.5,526.4 L78.5,526.4 L79.5,526.3 L80.5,526.2 L81.5,525.9 L82.5,525.7 L83.5,525.4 L84.5,524.9 L85.5,524.7 L86.5,524.2 L87.5,523.3 L88.5,522.7 L89.5,522.2 L90.5,521.4 L91.5,520.9 L92.5,520.0 L93.5,519.8 L94.5,518.3 L95.5,517.0 L96.5,516.5 L97.5,515.4 L98.5,513.8 L99.5,512.0 L100.5,511.4 L101.5,509.7 L102.5,508.6 L103.5,507.7 L104.5,507.2 L105.5,506.7 L106.5,506.4 L107.5,505.8 L108.5,505.8 L109.5,506.5 L110.5,506.2 L111.5,507.2 L112.5,508.1 L113.5,509.8 L114.5,511.4 L115.5,512.4 L116.5,514.2 L117.5,515.8 L118.5,516.6 L119.5,517.4 L120.5,518.8 L121.5,520.0 L122.5,520.2 L123.5,521.5 L124.5,521.9 L125.5,522.0 L126.5,522.2 L127.5,523.0 L128.5,522.7 L129.5,522.7 L130.5,522.7 L131.5,522.7 L132.5,522.7 L133.5,523.1 L134.5,522.4 L135.5,522.2 L136.5,522.0 L137.5,522.5 L138.5,522.6 L139.5,522.6 L140.5,522.5 L141.5,522.4 L142.5,522.3 L143.5,521.7 L144.5,522.0 L145.5,522.1 L146.5,522.0 L147.5,521.7 L148.5,521.2 L149.5,521.2 L150.5,520.4 L151.5,520.1 L152.5,520.0 L153.5,519.5 L154.5,519.4 L155.5,520.1 L156.5,519.3 L157.5,519.4 L158.5,519.2 L159.5,519.7 L160.5,518.9 L161.5,518.7 L162.5,518.7 L163.5,518.1 L164.5,517.1 L165.5,517.1 L166.5,515.8 L167.5,515.5 L168.5,515.4 L169.5,515.4 L170.5,514.3 L171.5,513.5 L172.5,513.1 L173.5,512.7 L174.5,512.4 L175.5,511.5 L176.5,510.7 L177.5,510.5 L178.5,509.3 L179.5,508.5 L180.5,508.2 L181.5,507.4 L182.5,506.2 L183.5,504.5 L184.5,503.4 L185.5,501.9 L186.5,500.9 L187.5,498.9 L188.5,497.3 L189.5,495.0 L190.5,493.2 L191.5,491.4 L192.5,491.2 L193.5,490.1 L194.5,489.6 L195.5,489.0 L196.5,489.0 L197.5,490.0 L198.5,490.9 L199.5,491.2 L200.5,492.1 L201.5,493.5 L202.5,495.7 L203.5,497.9 L204.5,500.9 L205.5,502.6 L206.5,505.7 L207.5,508.3 L208.5,511.8 L209.5,514.5 L210.5,517.4 L211.5,519.5 L212.5,521.2 L213.5,522.6 L214.5,523.4 L215.5,524.3 L216.5,524.9 L217.5,525.4 L218.5,525.9 L219.5,526.1 L220.5,526.2 L221.5,526.3 L222.5,526.3 L223.5,526.4 L224.5,526.4 L225.5,526.4 L226.5,526.4 L227.5,526.4 L228.5,526.4 L229.5,526.4 L230.5,526.4 L231.5,526.4 L232.5,526.4 L233.5,526.4 L234.5,526.4 L235.5,526.4 L236.5,526.4 L237.5,526.4 L238.5,526.4 L239.5,526.4 L240.5,526.4 L241.5,526.4 L242.5,526.4 L243.5,526.4 L244.5,526.4 L245.5,526.4 L246.5,526.4 L247.5,526.4 L248.5,526.4 L249.5,526.4 L250.5,526.4 L251.5,526.4 L252.5,526.4 L253.5,526.4 L254.5,526.4 L255.5,526.4 L256.5,526.4 L257.5,526.4 L258.5,526.4 L259.5,526.4 L260.5,526.4 L261.5,526.4 L262.5,526.4 L263.5,526.4 L264.5,526.4 L265.5,526.4 L266.5,526.4 L267.5,526.4 L268.5,526.4 L269.5,526.4 L270.5,526.4 L271.5,526.4 L272.5,526.4 L273.5,526.4 L274.5,526.4 L275.5,526.4 L276.5,526.4 L277.5,526.4 L278.5,526.4 L279.5,526.4 L280.3,526.4" fill="none" stroke="#6dbee6" stroke-width="1.5" stroke-linejoin="round"/>
<path d="M54.5,547.2 L55.5,547.2 L56.5,547.2 L57.5,547.2 L58.5,547.2 L59.5,547.2 L60.5,547.2 L61.5,547.2 L62.5,547.2 L63.5,547.2 L64.5,547.2 L65.5,547.2 L66.5,547.2 L67.5,547.2 L68.5,547.2 L69.5,547.2 L70.5,547.2 L71.5,547.2 L72.5,547.2 L73.5,547.2 L74.5,547.2 L75.5,547.2 L76.5,547.2 L77.5,547.2 L78.5,547.2 L79.5,547.2 L80.5,547.2 L81.5,547.2 L82.5,547.2 L83.5,547.2 L84.5,547.2 L85.5,547.2 L86.5,547.1 L87.5,547.0 L88.5,546.8 L89.5,546.4 L90.5,546.1 L91.5,545.0 L92.5,543.9 L93.5,542.4 L94.5,540.8 L95.5,538.2 L96.5,535.0 L97.5,532.5 L98.5,529.6 L99.5,526.9 L100.5,522.9 L101.5,518.7 L102.5,514.0 L103.5,511.5 L104.5,509.5 L105.5,508.8 L106.5,508.9 L107.5,508.9 L108.5,508.5 L109.5,509.0 L110.5,509.2 L111.5,509.5 L112.5,510.6 L113.5,511.3 L114.5,514.5 L115.5,516.9 L116.5,521.2 L117.5,524.8 L118.5,528.9 L119.5,532.6 L120.5,535.3 L121.5,537.9 L122.5,540.0 L123.5,541.4 L124.5,542.4 L125.5,543.9 L126.5,544.9 L127.5,545.5 L128.5,546.2 L129.5,546.7 L130.5,546.9 L131.5,547.0 L132.5,547.1 L133.5,547.2 L134.5,547.2 L135.5,547.2 L136.5,547.2 L137.5,547.2 L138.5,547.2 L139.5,547.2 L140.5,547.2 L141.5,547.2 L142.5,547.2 L143.5,547.2 L144.5,547.2 L145.5,547.2 L146.5,547.2 L147.5,547.2 L148.5,547.2 L149.5,547.2 L150.5,547.2 L151.5,547.2 L152.5,547.2 L153.5,547.2 L154.5,547.2 L155.5,547.2 L156.5,547.2 L157.5,547.2 L158.5,547.2 L159.5,547.2 L160.5,547.2 L161.5,547.2 L162.5,547.2 L163.5,547.2 L164.5,547.2 L165.5,547.2 L166.5,547.2 L167.5,547.2 L168.5,547.2 L169.5,547.2 L170.5,547.2 L171.5,547.2 L172.5,547.2 L173.5,547.2 L174.5,547.2 L175.5,547.2 L176.5,547.2 L177.5,547.2 L178.5,547.2 L179.5,547.2 L180.5,547.2 L181.5,547.2 L182.5,547.2 L183.5,547.2 L184.5,547.2 L185.5,547.2 L186.5,547.2 L187.5,547.2 L188.5,547.2 L189.5,547.2 L190.5,547.2 L191.5,547.2 L192.5,547.2 L193.5,547.2 L194.5,547.2 L195.5,547.2 L196.5,547.2 L197.5,547.2 L198.5,547.2 L199.5,547.2 L200.5,547.2 L201.5,547.2 L202.5,547.2 L203.5,547.2 L204.5,547.2 L205.5,547.2 L206.5,547.2 L207.5,547.2 L208.5,547.2 L209.5,547.2 L210.5,547.2 L211.5,547.2 L212.5,547.2 L213.5,547.2 L214.5,547.2 L215.5,547.2 L216.5,547.2 L217.5,547.2 L218.5,547.2 L219.5,547.2 L220.5,547.2 L221.5,547.2 L222.5,547.2 L223.5,547.2 L224.5,547.2 L225.5,547.2 L226.5,547.2 L227.5,547.2 L228.5,547.2 L229.5,547.2 L230.5,547.2 L231.5,547.2 L232.5,547.2 L233.5,547.2 L234.5,547.2 L235.5,547.2 L236.5,547.2 L237.5,547.2 L238.5,547.2 L239.5,547.2 L240.5,547.2 L241.5,547.2 L242.5,547.2 L243.5,547.2 L244.5,547.2 L245.5,547.2 L246.5,547.2 L247.5,547.2 L248.5,547.2 L249.5,547.2 L250.5,547.2 L251.5,547.2 L252.5,547.2 L253.5,547.2 L254.5,547.2 L255.5,547.2 L256.5,547.2 L257.5,547.2 L258.5,547.2 L259.5,547.2 L260.5,547.2 L261.5,547.2 L262.5,547.2 L263.5,547.2 L264.5,547.2 L265.5,547.2 L266.5,547.2 L267.5,547.2 L268.5,547.2 L269.5,547.2 L270.5,547.2 L271.5,547.2 L272.5,547.2 L273.5,547.2 L274.5,547.2 L275.5,547.2 L276.5,547.2 L277.5,547.2 L278.5,547.2 L279.5,547.2 L280.3,547.2 L280.30,547.16 L54.50,547.16 Z" fill="#f9abb0" style="mix-blend-mode:darken"/>
<path d="M54.5,547.2 L55.5,547.2 L56.5,547.2 L57.5,547.2 L58.5,547.2 L59.5,547.2 L60.5,547.2 L61.5,547.2 L62.5,547.2 L63.5,547.2 L64.5,547.2 L65.5,547.2 L66.5,547.2 L67.5,547.2 L68.5,547.2 L69.5,547.2 L70.5,547.2 L71.5,547.2 L72.5,547.2 L73.5,547.2 L74.5,547.2 L75.5,547.2 L76.5,547.2 L77.5,547.2 L78.5,547.2 L79.5,547.2 L80.5,547.2 L81.5,547.2 L82.5,547.2 L83.5,547.2 L84.5,547.2 L85.5,547.2 L86.5,547.1 L87.5,547.0 L88.5,546.8 L89.5,546.4 L90.5,546.1 L91.5,545.0 L92.5,543.9 L93.5,542.4 L94.5,540.8 L95.5,538.2 L96.5,535.0 L97.5,532.5 L98.5,529.6 L99.5,526.9 L100.5,522.9 L101.5,518.7 L102.5,514.0 L103.5,511.5 L104.5,509.5 L105.5,508.8 L106.5,508.9 L107.5,508.9 L108.5,508.5 L109.5,509.0 L110.5,509.2 L111.5,509.5 L112.5,510.6 L113.5,511.3 L114.5,514.5 L115.5,516.9 L116.5,521.2 L117.5,524.8 L118.5,528.9 L119.5,532.6 L120.5,535.3 L121.5,537.9 L122.5,540.0 L123.5,541.4 L124.5,542.4 L125.5,543.9 L126.5,544.9 L127.5,545.5 L128.5,546.2 L129.5,546.7 L130.5,546.9 L131.5,547.0 L132.5,547.1 L133.5,547.2 L134.5,547.2 L135.5,547.2 L136.5,547.2 L137.5,547.2 L138.5,547.2 L139.5,547.2 L140.5,547.2 L141.5,547.2 L142.5,547.2 L143.5,547.2 L144.5,547.2 L145.5,547.2 L146.5,547.2 L147.5,547.2 L148.5,547.2 L149.5,547.2 L150.5,547.2 L151.5,547.2 L152.5,547.2 L153.5,547.2 L154.5,547.2 L155.5,547.2 L156.5,547.2 L157.5,547.2 L158.5,547.2 L159.5,547.2 L160.5,547.2 L161.5,547.2 L162.5,547.2 L163.5,547.2 L164.5,547.2 L165.5,547.2 L166.5,547.2 L167.5,547.2 L168.5,547.2 L169.5,547.2 L170.5,547.2 L171.5,547.2 L172.5,547.2 L173.5,547.2 L174.5,547.2 L175.5,547.2 L176.5,547.2 L177.5,547.2 L178.5,547.2 L179.5,547.2 L180.5,547.2 L181.5,547.2 L182.5,547.2 L183.5,547.2 L184.5,547.2 L185.5,547.2 L186.5,547.2 L187.5,547.2 L188.5,547.2 L189.5,547.2 L190.5,547.2 L191.5,547.2 L192.5,547.2 L193.5,547.2 L194.5,547.2 L195.5,547.2 L196.5,547.2 L197.5,547.2 L198.5,547.2 L199.5,547.2 L200.5,547.2 L201.5,547.2 L202.5,547.2 L203.5,547.2 L204.5,547.2 L205.5,547.2 L206.5,547.2 L207.5,547.2 L208.5,547.2 L209.5,547.2 L210.5,547.2 L211.5,547.2 L212.5,547.2 L213.5,547.2 L214.5,547.2 L215.5,547.2 L216.5,547.2 L217.5,547.2 L218.5,547.2 L219.5,547.2 L220.5,547.2 L221.5,547.2 L222.5,547.2 L223.5,547.2 L224.5,547.2 L225.5,547.2 L226.5,547.2 L227.5,547.2 L228.5,547.2 L229.5,547.2 L230.5,547.2 L231.5,547.2 L232.5,547.2 L233.5,547.2 L234.5,547.2 L235.5,547.2 L236.5,547.2 L237.5,547.2 L238.5,547.2 L239.5,547.2 L240.5,547.2 L241.5,547.2 L242.5,547.2 L243.5,547.2 L244.5,547.2 L245.5,547.2 L246.5,547.2 L247.5,547.2 L248.5,547.2 L249.5,547.2 L250.5,547.2 L251.5,547.2 L252.5,547.2 L253.5,547.2 L254.5,547.2 L255.5,547.2 L256.5,547.2 L257.5,547.2 L258.5,547.2 L259.5,547.2 L260.5,547.2 L261.5,547.2 L262.5,547.2 L263.5,547.2 L264.5,547.2 L265.5,547.2 L266.5,547.2 L267.5,547.2 L268.5,547.2 L269.5,547.2 L270.5,547.2 L271.5,547.2 L272.5,547.2 L273.5,547.2 L274.5,547.2 L275.5,547.2 L276.5,547.2 L277.5,547.2 L278.5,547.2 L279.5,547.2 L280.3,547.2" fill="none" stroke="#e53e40" stroke-width="1.5" stroke-linejoin="round"/>
</g>
<g>
<path d="M304.0,380.9 L305.0,380.9 L306.0,380.9 L307.0,380.9 L308.0,380.9 L309.0,380.9 L310.0,380.9 L311.0,380.9 L312.0,380.9 L313.0,380.9 L314.0,380.9 L315.0,380.9 L316.0,380.9 L317.0,380.9 L318.0,380.9 L319.0,380.9 L320.0,380.9 L321.0,380.9 L322.0,380.9 L323.0,380.9 L324.0,380.9 L325.0,380.9 L326.0,380.9 L327.0,380.9 L328.0,380.9 L329.0,380.9 L330.0,380.9 L331.0,380.9 L332.0,380.8 L333.0,380.5 L334.0,380.0 L335.0,379.5 L336.0,379.1 L337.0,378.1 L338.0,377.9 L339.0,376.6 L340.0,375.3 L341.0,374.9 L342.0,373.7 L343.0,371.3 L344.0,369.7 L345.0,367.2 L346.0,364.9 L347.0,361.6 L348.0,358.9 L349.0,356.8 L350.0,355.8 L351.0,354.8 L352.0,353.0 L353.0,352.6 L354.0,352.2 L355.0,352.0 L356.0,351.0 L357.0,351.1 L358.0,351.7 L359.0,352.5 L360.0,352.8 L361.0,353.9 L362.0,355.4 L363.0,356.4 L364.0,357.9 L365.0,359.8 L366.0,361.4 L367.0,364.2 L368.0,366.6 L369.0,368.7 L370.0,370.1 L371.0,371.7 L372.0,373.7 L373.0,374.9 L374.0,376.6 L375.0,377.3 L376.0,377.5 L377.0,377.9 L378.0,378.0 L379.0,378.1 L380.0,378.1 L381.0,377.9 L382.0,377.9 L383.0,378.0 L384.0,378.5 L385.0,378.3 L386.0,378.6 L387.0,378.4 L388.0,378.5 L389.0,378.5 L390.0,378.5 L391.0,378.8 L392.0,378.7 L393.0,378.7 L394.0,378.6 L395.0,378.1 L396.0,378.0 L397.0,378.1 L398.0,377.5 L399.0,377.6 L400.0,377.8 L401.0,377.5 L402.0,377.3 L403.0,376.9 L404.0,376.6 L405.0,376.2 L406.0,376.2 L407.0,376.2 L408.0,376.4 L409.0,375.9 L410.0,375.6 L411.0,375.2 L412.0,375.1 L413.0,374.8 L414.0,375.4 L415.0,375.3 L416.0,375.1 L417.0,374.5 L418.0,373.8 L419.0,373.6 L420.0,373.7 L421.0,373.2 L422.0,373.1 L423.0,372.4 L424.0,372.3 L425.0,371.0 L426.0,369.9 L427.0,369.8 L428.0,368.8 L429.0,368.5 L430.0,367.9 L431.0,366.6 L432.0,365.9 L433.0,364.6 L434.0,363.2 L435.0,361.5 L436.0,359.6 L437.0,357.8 L438.0,356.0 L439.0,354.0 L440.0,353.3 L441.0,352.7 L442.0,352.7 L443.0,352.6 L444.0,352.4 L445.0,352.3 L446.0,352.5 L447.0,351.5 L448.0,351.2 L449.0,350.9 L450.0,350.2 L451.0,349.1 L452.0,348.8 L453.0,348.8 L454.0,348.3 L455.0,348.0 L456.0,348.2 L457.0,348.6 L458.0,349.0 L459.0,349.1 L460.0,348.1 L461.0,348.0 L462.0,347.2 L463.0,347.5 L464.0,347.4 L465.0,346.8 L466.0,345.3 L467.0,345.6 L468.0,347.6 L469.0,350.4 L470.0,353.7 L471.0,354.9 L472.0,356.8 L473.0,357.9 L474.0,358.7 L475.0,360.3 L476.0,361.9 L477.0,363.5 L478.0,365.3 L479.0,366.7 L480.0,367.5 L481.0,367.7 L482.0,368.0 L483.0,368.8 L484.0,369.3 L485.0,369.4 L486.0,369.4 L487.0,369.2 L488.0,368.4 L489.0,367.1 L490.0,366.3 L491.0,365.5 L492.0,365.3 L493.0,364.9 L494.0,364.1 L495.0,364.4 L496.0,363.5 L497.0,363.4 L498.0,363.6 L499.0,362.9 L500.0,362.6 L501.0,362.3 L502.0,361.6 L503.0,361.0 L504.0,360.4 L505.0,359.7 L506.0,358.4 L507.0,358.7 L508.0,358.6 L509.0,359.0 L510.0,359.6 L511.0,361.0 L512.0,361.4 L513.0,362.6 L514.0,363.7 L515.0,364.6 L516.0,365.2 L517.0,366.5 L518.0,367.3 L519.0,367.4 L520.0,367.4 L521.0,367.5 L522.0,368.0 L523.0,366.7 L524.0,344.1 L525.0,340.9 L526.0,341.1 L526.6,340.6 L526.60,380.90 L304.00,380.90 Z" fill="#faeca2" style="mix-blend-mode:darken"/>
<path d="M304.0,380.9 L305.0,380.9 L306.0,380.9 L307.0,380.9 L308.0,380.9 L309.0,380.9 L310.0,380.9 L311.0,380.9 L312.0,380.9 L313.0,380.9 L314.0,380.9 L315.0,380.9 L316.0,380.9 L317.0,380.9 L318.0,380.9 L319.0,380.9 L320.0,380.9 L321.0,380.9 L322.0,380.9 L323.0,380.9 L324.0,380.9 L325.0,380.9 L326.0,380.9 L327.0,380.9 L328.0,380.9 L329.0,380.9 L330.0,380.9 L331.0,380.9 L332.0,380.8 L333.0,380.5 L334.0,380.0 L335.0,379.5 L336.0,379.1 L337.0,378.1 L338.0,377.9 L339.0,376.6 L340.0,375.3 L341.0,374.9 L342.0,373.7 L343.0,371.3 L344.0,369.7 L345.0,367.2 L346.0,364.9 L347.0,361.6 L348.0,358.9 L349.0,356.8 L350.0,355.8 L351.0,354.8 L352.0,353.0 L353.0,352.6 L354.0,352.2 L355.0,352.0 L356.0,351.0 L357.0,351.1 L358.0,351.7 L359.0,352.5 L360.0,352.8 L361.0,353.9 L362.0,355.4 L363.0,356.4 L364.0,357.9 L365.0,359.8 L366.0,361.4 L367.0,364.2 L368.0,366.6 L369.0,368.7 L370.0,370.1 L371.0,371.7 L372.0,373.7 L373.0,374.9 L374.0,376.6 L375.0,377.3 L376.0,377.5 L377.0,377.9 L378.0,378.0 L379.0,378.1 L380.0,378.1 L381.0,377.9 L382.0,377.9 L383.0,378.0 L384.0,378.5 L385.0,378.3 L386.0,378.6 L387.0,378.4 L388.0,378.5 L389.0,378.5 L390.0,378.5 L391.0,378.8 L392.0,378.7 L393.0,378.7 L394.0,378.6 L395.0,378.1 L396.0,378.0 L397.0,378.1 L398.0,377.5 L399.0,377.6 L400.0,377.8 L401.0,377.5 L402.0,377.3 L403.0,376.9 L404.0,376.6 L405.0,376.2 L406.0,376.2 L407.0,376.2 L408.0,376.4 L409.0,375.9 L410.0,375.6 L411.0,375.2 L412.0,375.1 L413.0,374.8 L414.0,375.4 L415.0,375.3 L416.0,375.1 L417.0,374.5 L418.0,373.8 L419.0,373.6 L420.0,373.7 L421.0,373.2 L422.0,373.1 L423.0,372.4 L424.0,372.3 L425.0,371.0 L426.0,369.9 L427.0,369.8 L428.0,368.8 L429.0,368.5 L430.0,367.9 L431.0,366.6 L432.0,365.9 L433.0,364.6 L434.0,363.2 L435.0,361.5 L436.0,359.6 L437.0,357.8 L438.0,356.0 L439.0,354.0 L440.0,353.3 L441.0,352.7 L442.0,352.7 L443.0,352.6 L444.0,352.4 L445.0,352.3 L446.0,352.5 L447.0,351.5 L448.0,351.2 L449.0,350.9 L450.0,350.2 L451.0,349.1 L452.0,348.8 L453.0,348.8 L454.0,348.3 L455.0,348.0 L456.0,348.2 L457.0,348.6 L458.0,349.0 L459.0,349.1 L460.0,348.1 L461.0,348.0 L462.0,347.2 L463.0,347.5 L464.0,347.4 L465.0,346.8 L466.0,345.3 L467.0,345.6 L468.0,347.6 L469.0,350.4 L470.0,353.7 L471.0,354.9 L472.0,356.8 L473.0,357.9 L474.0,358.7 L475.0,360.3 L476.0,361.9 L477.0,363.5 L478.0,365.3 L479.0,366.7 L480.0,367.5 L481.0,367.7 L482.0,368.0 L483.0,368.8 L484.0,369.3 L485.0,369.4 L486.0,369.4 L487.0,369.2 L488.0,368.4 L489.0,367.1 L490.0,366.3 L491.0,365.5 L492.0,365.3 L493.0,364.9 L494.0,364.1 L495.0,364.4 L496.0,363.5 L497.0,363.4 L498.0,363.6 L499.0,362.9 L500.0,362.6 L501.0,362.3 L502.0,361.6 L503.0,361.0 L504.0,360.4 L505.0,359.7 L506.0,358.4 L507.0,358.7 L508.0,358.6 L509.0,359.0 L510.0,359.6 L511.0,361.0 L512.0,361.4 L513.0,362.6 L514.0,363.7 L515.0,364.6 L516.0,365.2 L517.0,366.5 L518.0,367.3 L519.0,367.4 L520.0,367.4 L521.0,367.5 L522.0,368.0 L523.0,366.7 L524.0,344.1 L525.0,340.9 L526.0,341.1 L526.6,340.6" fill="none" stroke="#f0d818" stroke-width="1.5" stroke-linejoin="round"/>
<path d="M304.0,401.7 L305.0,401.7 L306.0,401.7 L307.0,401.7 L308.0,401.7 L309.0,401.7 L310.0,401.7 L311.0,401.7 L312.0,401.7 L313.0,401.7 L314.0,401.7 L315.0,401.7 L316.0,401.7 L317.0,401.7 L318.0,401.7 L319.0,401.7 L320.0,401.7 L321.0,401.7 L322.0,401.7 L323.0,401.7 L324.0,401.7 L325.0,401.7 L326.0,401.7 L327.0,401.7 L328.0,401.7 L329.0,401.7 L330.0,401.7 L331.0,401.7 L332.0,401.7 L333.0,401.7 L334.0,401.7 L335.0,401.7 L336.0,401.4 L337.0,400.9 L338.0,400.4 L339.0,399.6 L340.0,398.8 L341.0,397.2 L342.0,396.0 L343.0,394.3 L344.0,393.0 L345.0,391.1 L346.0,388.7 L347.0,386.6 L348.0,384.1 L349.0,382.2 L350.0,380.0 L351.0,378.3 L352.0,376.5 L353.0,375.3 L354.0,373.4 L355.0,372.9 L356.0,372.1 L357.0,371.3 L358.0,371.9 L359.0,372.8 L360.0,374.7 L361.0,376.3 L362.0,377.8 L363.0,379.4 L364.0,381.9 L365.0,383.1 L366.0,385.1 L367.0,386.4 L368.0,388.7 L369.0,389.4 L370.0,391.3 L371.0,392.3 L372.0,392.9 L373.0,393.1 L374.0,393.9 L375.0,395.0 L376.0,395.6 L377.0,396.1 L378.0,396.0 L379.0,395.7 L380.0,396.3 L381.0,396.7 L382.0,397.1 L383.0,396.6 L384.0,397.2 L385.0,397.2 L386.0,397.5 L387.0,397.0 L388.0,397.0 L389.0,396.6 L390.0,396.1 L391.0,396.4 L392.0,396.5 L393.0,395.9 L394.0,395.1 L395.0,395.1 L396.0,394.6 L397.0,395.0 L398.0,394.3 L399.0,394.2 L400.0,393.5 L401.0,392.9 L402.0,393.2 L403.0,393.1 L404.0,392.9 L405.0,392.8 L406.0,392.4 L407.0,392.3 L408.0,392.1 L409.0,390.9 L410.0,390.4 L411.0,390.1 L412.0,389.9 L413.0,389.1 L414.0,389.1 L415.0,389.2 L416.0,389.3 L417.0,389.5 L418.0,389.3 L419.0,389.3 L420.0,388.5 L421.0,388.3 L422.0,388.2 L423.0,388.2 L424.0,388.0 L425.0,388.1 L426.0,387.6 L427.0,386.6 L428.0,385.7 L429.0,385.2 L430.0,384.6 L431.0,383.4 L432.0,382.1 L433.0,380.7 L434.0,379.3 L435.0,378.9 L436.0,378.6 L437.0,378.6 L438.0,378.9 L439.0,378.8 L440.0,378.8 L441.0,378.6 L442.0,378.7 L443.0,378.2 L444.0,378.6 L445.0,378.8 L446.0,378.7 L447.0,378.3 L448.0,378.6 L449.0,379.5 L450.0,379.6 L451.0,379.9 L452.0,380.3 L453.0,380.5 L454.0,380.6 L455.0,380.7 L456.0,381.3 L457.0,381.0 L458.0,379.6 L459.0,378.2 L460.0,377.5 L461.0,376.4 L462.0,375.1 L463.0,374.1 L464.0,373.8 L465.0,372.8 L466.0,372.0 L467.0,372.0 L468.0,371.8 L469.0,371.2 L470.0,370.1 L471.0,369.2 L472.0,368.3 L473.0,368.2 L474.0,368.3 L475.0,368.3 L476.0,368.1 L477.0,368.4 L478.0,368.4 L479.0,367.9 L480.0,367.0 L481.0,367.6 L482.0,368.2 L483.0,369.3 L484.0,370.1 L485.0,371.0 L486.0,373.2 L487.0,375.5 L488.0,377.9 L489.0,381.0 L490.0,383.9 L491.0,386.7 L492.0,388.6 L493.0,390.1 L494.0,392.4 L495.0,394.3 L496.0,395.4 L497.0,395.7 L498.0,396.3 L499.0,396.9 L500.0,397.5 L501.0,398.3 L502.0,399.1 L503.0,399.5 L504.0,399.6 L505.0,400.0 L506.0,400.3 L507.0,400.8 L508.0,401.1 L509.0,401.3 L510.0,401.5 L511.0,401.7 L512.0,401.7 L513.0,401.7 L514.0,401.7 L515.0,401.7 L516.0,401.7 L517.0,401.7 L518.0,401.7 L519.0,401.7 L520.0,401.7 L521.0,401.7 L522.0,401.7 L523.0,401.7 L524.0,401.7 L525.0,401.7 L526.0,401.7 L526.6,401.7 L526.60,401.70 L304.00,401.70 Z" fill="#b8eaea" style="mix-blend-mode:darken"/>
<path d="M304.0,401.7 L305.0,401.7 L306.0,401.7 L307.0,401.7 L308.0,401.7 L309.0,401.7 L310.0,401.7 L311.0,401.7 L312.0,401.7 L313.0,401.7 L314.0,401.7 L315.0,401.7 L316.0,401.7 L317.0,401.7 L318.0,401.7 L319.0,401.7 L320.0,401.7 L321.0,401.7 L322.0,401.7 L323.0,401.7 L324.0,401.7 L325.0,401.7 L326.0,401.7 L327.0,401.7 L328.0,401.7 L329.0,401.7 L330.0,401.7 L331.0,401.7 L332.0,401.7 L333.0,401.7 L334.0,401.7 L335.0,401.7 L336.0,401.4 L337.0,400.9 L338.0,400.4 L339.0,399.6 L340.0,398.8 L341.0,397.2 L342.0,396.0 L343.0,394.3 L344.0,393.0 L345.0,391.1 L346.0,388.7 L347.0,386.6 L348.0,384.1 L349.0,382.2 L350.0,380.0 L351.0,378.3 L352.0,376.5 L353.0,375.3 L354.0,373.4 L355.0,372.9 L356.0,372.1 L357.0,371.3 L358.0,371.9 L359.0,372.8 L360.0,374.7 L361.0,376.3 L362.0,377.8 L363.0,379.4 L364.0,381.9 L365.0,383.1 L366.0,385.1 L367.0,386.4 L368.0,388.7 L369.0,389.4 L370.0,391.3 L371.0,392.3 L372.0,392.9 L373.0,393.1 L374.0,393.9 L375.0,395.0 L376.0,395.6 L377.0,396.1 L378.0,396.0 L379.0,395.7 L380.0,396.3 L381.0,396.7 L382.0,397.1 L383.0,396.6 L384.0,397.2 L385.0,397.2 L386.0,397.5 L387.0,397.0 L388.0,397.0 L389.0,396.6 L390.0,396.1 L391.0,396.4 L392.0,396.5 L393.0,395.9 L394.0,395.1 L395.0,395.1 L396.0,394.6 L397.0,395.0 L398.0,394.3 L399.0,394.2 L400.0,393.5 L401.0,392.9 L402.0,393.2 L403.0,393.1 L404.0,392.9 L405.0,392.8 L406.0,392.4 L407.0,392.3 L408.0,392.1 L409.0,390.9 L410.0,390.4 L411.0,390.1 L412.0,389.9 L413.0,389.1 L414.0,389.1 L415.0,389.2 L416.0,389.3 L417.0,389.5 L418.0,389.3 L419.0,389.3 L420.0,388.5 L421.0,388.3 L422.0,388.2 L423.0,388.2 L424.0,388.0 L425.0,388.1 L426.0,387.6 L427.0,386.6 L428.0,385.7 L429.0,385.2 L430.0,384.6 L431.0,383.4 L432.0,382.1 L433.0,380.7 L434.0,379.3 L435.0,378.9 L436.0,378.6 L437.0,378.6 L438.0,378.9 L439.0,378.8 L440.0,378.8 L441.0,378.6 L442.0,378.7 L443.0,378.2 L444.0,378.6 L445.0,378.8 L446.0,378.7 L447.0,378.3 L448.0,378.6 L449.0,379.5 L450.0,379.6 L451.0,379.9 L452.0,380.3 L453.0,380.5 L454.0,380.6 L455.0,380.7 L456.0,381.3 L457.0,381.0 L458.0,379.6 L459.0,378.2 L460.0,377.5 L461.0,376.4 L462.0,375.1 L463.0,374.1 L464.0,373.8 L465.0,372.8 L466.0,372.0 L467.0,372.0 L468.0,371.8 L469.0,371.2 L470.0,370.1 L471.0,369.2 L472.0,368.3 L473.0,368.2 L474.0,368.3 L475.0,368.3 L476.0,368.1 L477.0,368.4 L478.0,368.4 L479.0,367.9 L480.0,367.0 L481.0,367.6 L482.0,368.2 L483.0,369.3 L484.0,370.1 L485.0,371.0 L486.0,373.2 L487.0,375.5 L488.0,377.9 L489.0,381.0 L490.0,383.9 L491.0,386.7 L492.0,388.6 L493.0,390.1 L494.0,392.4 L495.0,394.3 L496.0,395.4 L497.0,395.7 L498.0,396.3 L499.0,396.9 L500.0,397.5 L501.0,398.3 L502.0,399.1 L503.0,399.5 L504.0,399.6 L505.0,400.0 L506.0,400.3 L507.0,400.8 L508.0,401.1 L509.0,401.3 L510.0,401.5 L511.0,401.7 L512.0,401.7 L513.0,401.7 L514.0,401.7 L515.0,401.7 L516.0,401.7 L517.0,401.7 L518.0,401.7 L519.0,401.7 L520.0,401.7 L521.0,401.7 L522.0,401.7 L523.0,401.7 L524.0,401.7 L525.0,401.7 L526.0,401.7 L526.6,401.7" fill="none" stroke="#2ea3a6" stroke-width="1.5" stroke-linejoin="round"/>
<path d="M304.0,422.5 L305.0,422.5 L306.0,422.5 L307.0,422.5 L308.0,422.5 L309.0,422.5 L310.0,422.5 L311.0,422.5 L312.0,422.5 L313.0,422.5 L314.0,422.5 L315.0,422.5 L316.0,422.5 L317.0,422.5 L318.0,422.5 L319.0,422.5 L320.0,422.5 L321.0,422.5 L322.0,422.5 L323.0,422.5 L324.0,422.5 L325.0,422.5 L326.0,422.5 L327.0,422.5 L328.0,422.5 L329.0,422.5 L330.0,422.5 L331.0,422.5 L332.0,422.5 L333.0,422.5 L334.0,422.5 L335.0,422.5 L336.0,422.5 L337.0,422.4 L338.0,422.0 L339.0,421.4 L340.0,420.7 L341.0,420.0 L342.0,418.3 L343.0,417.0 L344.0,415.7 L345.0,414.8 L346.0,413.6 L347.0,412.2 L348.0,410.8 L349.0,409.1 L350.0,408.0 L351.0,406.1 L352.0,404.5 L353.0,403.7 L354.0,402.2 L355.0,401.6 L356.0,402.3 L357.0,402.8 L358.0,403.1 L359.0,403.6 L360.0,403.5 L361.0,403.8 L362.0,404.0 L363.0,404.8 L364.0,406.6 L365.0,408.9 L366.0,409.8 L367.0,410.8 L368.0,412.2 L369.0,413.8 L370.0,414.4 L371.0,415.1 L372.0,416.0 L373.0,417.1 L374.0,417.8 L375.0,418.3 L376.0,418.6 L377.0,419.1 L378.0,419.3 L379.0,419.5 L380.0,419.9 L381.0,419.9 L382.0,420.3 L383.0,420.4 L384.0,419.9 L385.0,419.7 L386.0,419.6 L387.0,419.8 L388.0,419.7 L389.0,419.9 L390.0,419.6 L391.0,419.8 L392.0,419.4 L393.0,419.4 L394.0,419.6 L395.0,419.2 L396.0,418.8 L397.0,418.8 L398.0,418.9 L399.0,418.6 L400.0,418.5 L401.0,418.9 L402.0,418.7 L403.0,418.9 L404.0,419.3 L405.0,419.1 L406.0,419.3 L407.0,419.1 L408.0,418.6 L409.0,419.0 L410.0,419.3 L411.0,418.6 L412.0,418.7 L413.0,418.6 L414.0,418.3 L415.0,418.6 L416.0,417.9 L417.0,417.4 L418.0,417.5 L419.0,416.9 L420.0,417.1 L421.0,416.6 L422.0,416.8 L423.0,415.8 L424.0,415.6 L425.0,415.2 L426.0,414.5 L427.0,414.5 L428.0,414.3 L429.0,413.9 L430.0,413.7 L431.0,413.2 L432.0,412.7 L433.0,413.1 L434.0,412.7 L435.0,411.8 L436.0,411.2 L437.0,410.9 L438.0,410.4 L439.0,410.3 L440.0,410.0 L441.0,410.7 L442.0,410.0 L443.0,410.1 L444.0,409.4 L445.0,409.7 L446.0,409.5 L447.0,409.2 L448.0,408.0 L449.0,407.7 L450.0,407.6 L451.0,406.6 L452.0,405.4 L453.0,404.7 L454.0,403.6 L455.0,402.9 L456.0,401.6 L457.0,400.6 L458.0,399.7 L459.0,398.2 L460.0,396.9 L461.0,395.9 L462.0,394.3 L463.0,392.8 L464.0,391.3 L465.0,389.4 L466.0,387.8 L467.0,387.1 L468.0,386.7 L469.0,386.2 L470.0,385.9 L471.0,385.3 L472.0,385.2 L473.0,385.6 L474.0,387.5 L475.0,389.0 L476.0,390.5 L477.0,393.4 L478.0,398.6 L479.0,402.9 L480.0,406.4 L481.0,409.5 L482.0,411.3 L483.0,413.4 L484.0,415.2 L485.0,416.0 L486.0,417.8 L487.0,419.3 L488.0,419.6 L489.0,420.4 L490.0,420.5 L491.0,420.9 L492.0,421.1 L493.0,421.5 L494.0,421.7 L495.0,422.0 L496.0,422.1 L497.0,422.2 L498.0,422.4 L499.0,422.5 L500.0,422.5 L501.0,422.5 L502.0,422.5 L503.0,422.5 L504.0,422.5 L505.0,422.5 L506.0,422.5 L507.0,422.5 L508.0,422.5 L509.0,422.5 L510.0,422.5 L511.0,422.5 L512.0,422.5 L513.0,422.5 L514.0,422.5 L515.0,422.5 L516.0,422.5 L517.0,422.5 L518.0,422.5 L519.0,422.5 L520.0,422.5 L521.0,422.5 L522.0,422.5 L523.0,422.5 L524.0,422.5 L525.0,422.5 L526.0,422.5 L526.6,422.5 L526.60,422.50 L304.00,422.50 Z" fill="#dda2e4" style="mix-blend-mode:multiply"/>
<path d="M304.0,422.5 L305.0,422.5 L306.0,422.5 L307.0,422.5 L308.0,422.5 L309.0,422.5 L310.0,422.5 L311.0,422.5 L312.0,422.5 L313.0,422.5 L314.0,422.5 L315.0,422.5 L316.0,422.5 L317.0,422.5 L318.0,422.5 L319.0,422.5 L320.0,422.5 L321.0,422.5 L322.0,422.5 L323.0,422.5 L324.0,422.5 L325.0,422.5 L326.0,422.5 L327.0,422.5 L328.0,422.5 L329.0,422.5 L330.0,422.5 L331.0,422.5 L332.0,422.5 L333.0,422.5 L334.0,422.5 L335.0,422.5 L336.0,422.5 L337.0,422.4 L338.0,422.0 L339.0,421.4 L340.0,420.7 L341.0,420.0 L342.0,418.3 L343.0,417.0 L344.0,415.7 L345.0,414.8 L346.0,413.6 L347.0,412.2 L348.0,410.8 L349.0,409.1 L350.0,408.0 L351.0,406.1 L352.0,404.5 L353.0,403.7 L354.0,402.2 L355.0,401.6 L356.0,402.3 L357.0,402.8 L358.0,403.1 L359.0,403.6 L360.0,403.5 L361.0,403.8 L362.0,404.0 L363.0,404.8 L364.0,406.6 L365.0,408.9 L366.0,409.8 L367.0,410.8 L368.0,412.2 L369.0,413.8 L370.0,414.4 L371.0,415.1 L372.0,416.0 L373.0,417.1 L374.0,417.8 L375.0,418.3 L376.0,418.6 L377.0,419.1 L378.0,419.3 L379.0,419.5 L380.0,419.9 L381.0,419.9 L382.0,420.3 L383.0,420.4 L384.0,419.9 L385.0,419.7 L386.0,419.6 L387.0,419.8 L388.0,419.7 L389.0,419.9 L390.0,419.6 L391.0,419.8 L392.0,419.4 L393.0,419.4 L394.0,419.6 L395.0,419.2 L396.0,418.8 L397.0,418.8 L398.0,418.9 L399.0,418.6 L400.0,418.5 L401.0,418.9 L402.0,418.7 L403.0,418.9 L404.0,419.3 L405.0,419.1 L406.0,419.3 L407.0,419.1 L408.0,418.6 L409.0,419.0 L410.0,419.3 L411.0,418.6 L412.0,418.7 L413.0,418.6 L414.0,418.3 L415.0,418.6 L416.0,417.9 L417.0,417.4 L418.0,417.5 L419.0,416.9 L420.0,417.1 L421.0,416.6 L422.0,416.8 L423.0,415.8 L424.0,415.6 L425.0,415.2 L426.0,414.5 L427.0,414.5 L428.0,414.3 L429.0,413.9 L430.0,413.7 L431.0,413.2 L432.0,412.7 L433.0,413.1 L434.0,412.7 L435.0,411.8 L436.0,411.2 L437.0,410.9 L438.0,410.4 L439.0,410.3 L440.0,410.0 L441.0,410.7 L442.0,410.0 L443.0,410.1 L444.0,409.4 L445.0,409.7 L446.0,409.5 L447.0,409.2 L448.0,408.0 L449.0,407.7 L450.0,407.6 L451.0,406.6 L452.0,405.4 L453.0,404.7 L454.0,403.6 L455.0,402.9 L456.0,401.6 L457.0,400.6 L458.0,399.7 L459.0,398.2 L460.0,396.9 L461.0,395.9 L462.0,394.3 L463.0,392.8 L464.0,391.3 L465.0,389.4 L466.0,387.8 L467.0,387.1 L468.0,386.7 L469.0,386.2 L470.0,385.9 L471.0,385.3 L472.0,385.2 L473.0,385.6 L474.0,387.5 L475.0,389.0 L476.0,390.5 L477.0,393.4 L478.0,398.6 L479.0,402.9 L480.0,406.4 L481.0,409.5 L482.0,411.3 L483.0,413.4 L484.0,415.2 L485.0,416.0 L486.0,417.8 L487.0,419.3 L488.0,419.6 L489.0,420.4 L490.0,420.5 L491.0,420.9 L492.0,421.1 L493.0,421.5 L494.0,421.7 L495.0,422.0 L496.0,422.1 L497.0,422.2 L498.0,422.4 L499.0,422.5 L500.0,422.5 L501.0,422.5 L502.0,422.5 L503.0,422.5 L504.0,422.5 L505.0,422.5 L506.0,422.5 L507.0,422.5 L508.0,422.5 L509.0,422.5 L510.0,422.5 L511.0,422.5 L512.0,422.5 L513.0,422.5 L514.0,422.5 L515.0,422.5 L516.0,422.5 L517.0,422.5 L518.0,422.5 L519.0,422.5 L520.0,422.5 L521.0,422.5 L522.0,422.5 L523.0,422.5 L524.0,422.5 L525.0,422.5 L526.0,422.5 L526.6,422.5" fill="none" stroke="#9c30c4" stroke-width="1.5" stroke-linejoin="round"/>
<path d="M304.0,443.3 L305.0,443.3 L306.0,443.3 L307.0,443.3 L308.0,443.3 L309.0,443.3 L310.0,443.3 L311.0,443.3 L312.0,443.3 L313.0,443.3 L314.0,443.3 L315.0,443.3 L316.0,443.3 L317.0,443.3 L318.0,443.3 L319.0,443.3 L320.0,443.3 L321.0,443.3 L322.0,443.3 L323.0,443.3 L324.0,443.3 L325.0,443.3 L326.0,443.3 L327.0,443.3 L328.0,443.3 L329.0,443.3 L330.0,443.3 L331.0,443.3 L332.0,443.3 L333.0,443.3 L334.0,443.3 L335.0,443.2 L336.0,442.8 L337.0,442.0 L338.0,441.2 L339.0,440.5 L340.0,439.8 L341.0,438.6 L342.0,437.0 L343.0,435.5 L344.0,434.2 L345.0,432.9 L346.0,432.1 L347.0,431.3 L348.0,430.2 L349.0,428.4 L350.0,426.8 L351.0,425.4 L352.0,424.6 L353.0,423.2 L354.0,422.2 L355.0,420.7 L356.0,420.3 L357.0,419.5 L358.0,419.1 L359.0,419.5 L360.0,420.0 L361.0,421.5 L362.0,422.7 L363.0,424.5 L364.0,426.5 L365.0,428.3 L366.0,429.5 L367.0,431.4 L368.0,432.4 L369.0,433.9 L370.0,434.5 L371.0,435.8 L372.0,436.5 L373.0,437.9 L374.0,438.7 L375.0,439.7 L376.0,439.5 L377.0,440.0 L378.0,440.0 L379.0,439.9 L380.0,440.1 L381.0,440.1 L382.0,440.2 L383.0,440.5 L384.0,440.7 L385.0,440.7 L386.0,441.0 L387.0,440.8 L388.0,440.9 L389.0,441.3 L390.0,440.9 L391.0,441.1 L392.0,440.9 L393.0,440.7 L394.0,440.7 L395.0,440.5 L396.0,440.4 L397.0,440.3 L398.0,440.4 L399.0,440.5 L400.0,440.4 L401.0,440.3 L402.0,440.1 L403.0,439.9 L404.0,439.7 L405.0,439.6 L406.0,438.9 L407.0,439.1 L408.0,438.7 L409.0,438.8 L410.0,439.2 L411.0,438.9 L412.0,439.2 L413.0,439.4 L414.0,438.9 L415.0,438.3 L416.0,438.9 L417.0,438.7 L418.0,438.3 L419.0,437.8 L420.0,438.0 L421.0,437.7 L422.0,437.9 L423.0,437.6 L424.0,436.9 L425.0,436.4 L426.0,436.8 L427.0,436.5 L428.0,436.7 L429.0,436.7 L430.0,436.0 L431.0,436.1 L432.0,435.2 L433.0,434.8 L434.0,434.2 L435.0,434.3 L436.0,433.6 L437.0,434.0 L438.0,433.8 L439.0,433.7 L440.0,433.1 L441.0,432.8 L442.0,432.0 L443.0,431.6 L444.0,431.9 L445.0,431.8 L446.0,431.1 L447.0,431.0 L448.0,430.4 L449.0,430.4 L450.0,429.7 L451.0,430.1 L452.0,429.1 L453.0,428.9 L454.0,428.1 L455.0,427.6 L456.0,427.5 L457.0,426.7 L458.0,425.9 L459.0,425.4 L460.0,424.9 L461.0,424.4 L462.0,423.8 L463.0,422.6 L464.0,421.5 L465.0,420.5 L466.0,418.0 L467.0,416.0 L468.0,414.9 L469.0,412.6 L470.0,411.1 L471.0,410.0 L472.0,409.8 L473.0,410.0 L474.0,409.9 L475.0,409.4 L476.0,409.1 L477.0,409.2 L478.0,409.1 L479.0,408.3 L480.0,406.8 L481.0,405.5 L482.0,404.8 L483.0,406.2 L484.0,407.0 L485.0,408.3 L486.0,409.9 L487.0,411.0 L488.0,412.8 L489.0,415.1 L490.0,417.4 L491.0,419.8 L492.0,421.6 L493.0,423.4 L494.0,425.4 L495.0,427.2 L496.0,429.9 L497.0,431.7 L498.0,434.2 L499.0,437.0 L500.0,438.4 L501.0,439.2 L502.0,440.3 L503.0,441.3 L504.0,441.8 L505.0,442.2 L506.0,442.5 L507.0,442.8 L508.0,443.0 L509.0,443.2 L510.0,443.3 L511.0,443.3 L512.0,443.3 L513.0,443.3 L514.0,443.3 L515.0,443.3 L516.0,443.3 L517.0,443.3 L518.0,443.3 L519.0,443.3 L520.0,443.3 L521.0,443.3 L522.0,443.3 L523.0,443.3 L524.0,443.3 L525.0,443.3 L526.0,443.3 L526.6,443.3 L526.60,443.30 L304.00,443.30 Z" fill="#f0dada" style="mix-blend-mode:darken"/>
<path d="M304.0,443.3 L305.0,443.3 L306.0,443.3 L307.0,443.3 L308.0,443.3 L309.0,443.3 L310.0,443.3 L311.0,443.3 L312.0,443.3 L313.0,443.3 L314.0,443.3 L315.0,443.3 L316.0,443.3 L317.0,443.3 L318.0,443.3 L319.0,443.3 L320.0,443.3 L321.0,443.3 L322.0,443.3 L323.0,443.3 L324.0,443.3 L325.0,443.3 L326.0,443.3 L327.0,443.3 L328.0,443.3 L329.0,443.3 L330.0,443.3 L331.0,443.3 L332.0,443.3 L333.0,443.3 L334.0,443.3 L335.0,443.2 L336.0,442.8 L337.0,442.0 L338.0,441.2 L339.0,440.5 L340.0,439.8 L341.0,438.6 L342.0,437.0 L343.0,435.5 L344.0,434.2 L345.0,432.9 L346.0,432.1 L347.0,431.3 L348.0,430.2 L349.0,428.4 L350.0,426.8 L351.0,425.4 L352.0,424.6 L353.0,423.2 L354.0,422.2 L355.0,420.7 L356.0,420.3 L357.0,419.5 L358.0,419.1 L359.0,419.5 L360.0,420.0 L361.0,421.5 L362.0,422.7 L363.0,424.5 L364.0,426.5 L365.0,428.3 L366.0,429.5 L367.0,431.4 L368.0,432.4 L369.0,433.9 L370.0,434.5 L371.0,435.8 L372.0,436.5 L373.0,437.9 L374.0,438.7 L375.0,439.7 L376.0,439.5 L377.0,440.0 L378.0,440.0 L379.0,439.9 L380.0,440.1 L381.0,440.1 L382.0,440.2 L383.0,440.5 L384.0,440.7 L385.0,440.7 L386.0,441.0 L387.0,440.8 L388.0,440.9 L389.0,441.3 L390.0,440.9 L391.0,441.1 L392.0,440.9 L393.0,440.7 L394.0,440.7 L395.0,440.5 L396.0,440.4 L397.0,440.3 L398.0,440.4 L399.0,440.5 L400.0,440.4 L401.0,440.3 L402.0,440.1 L403.0,439.9 L404.0,439.7 L405.0,439.6 L406.0,438.9 L407.0,439.1 L408.0,438.7 L409.0,438.8 L410.0,439.2 L411.0,438.9 L412.0,439.2 L413.0,439.4 L414.0,438.9 L415.0,438.3 L416.0,438.9 L417.0,438.7 L418.0,438.3 L419.0,437.8 L420.0,438.0 L421.0,437.7 L422.0,437.9 L423.0,437.6 L424.0,436.9 L425.0,436.4 L426.0,436.8 L427.0,436.5 L428.0,436.7 L429.0,436.7 L430.0,436.0 L431.0,436.1 L432.0,435.2 L433.0,434.8 L434.0,434.2 L435.0,434.3 L436.0,433.6 L437.0,434.0 L438.0,433.8 L439.0,433.7 L440.0,433.1 L441.0,432.8 L442.0,432.0 L443.0,431.6 L444.0,431.9 L445.0,431.8 L446.0,431.1 L447.0,431.0 L448.0,430.4 L449.0,430.4 L450.0,429.7 L451.0,430.1 L452.0,429.1 L453.0,428.9 L454.0,428.1 L455.0,427.6 L456.0,427.5 L457.0,426.7 L458.0,425.9 L459.0,425.4 L460.0,424.9 L461.0,424.4 L462.0,423.8 L463.0,422.6 L464.0,421.5 L465.0,420.5 L466.0,418.0 L467.0,416.0 L468.0,414.9 L469.0,412.6 L470.0,411.1 L471.0,410.0 L472.0,409.8 L473.0,410.0 L474.0,409.9 L475.0,409.4 L476.0,409.1 L477.0,409.2 L478.0,409.1 L479.0,408.3 L480.0,406.8 L481.0,405.5 L482.0,404.8 L483.0,406.2 L484.0,407.0 L485.0,408.3 L486.0,409.9 L487.0,411.0 L488.0,412.8 L489.0,415.1 L490.0,417.4 L491.0,419.8 L492.0,421.6 L493.0,423.4 L494.0,425.4 L495.0,427.2 L496.0,429.9 L497.0,431.7 L498.0,434.2 L499.0,437.0 L500.0,438.4 L501.0,439.2 L502.0,440.3 L503.0,441.3 L504.0,441.8 L505.0,442.2 L506.0,442.5 L507.0,442.8 L508.0,443.0 L509.0,443.2 L510.0,443.3 L511.0,443.3 L512.0,443.3 L513.0,443.3 L514.0,443.3 L515.0,443.3 L516.0,443.3 L517.0,443.3 L518.0,443.3 L519.0,443.3 L520.0,443.3 L521.0,443.3 L522.0,443.3 L523.0,443.3 L524.0,443.3 L525.0,443.3 L526.0,443.3 L526.6,443.3" fill="none" stroke="#dba5a5" stroke-width="1.5" stroke-linejoin="round"/>
<path d="M304.0,464.1 L305.0,464.1 L306.0,464.1 L307.0,464.1 L308.0,464.1 L309.0,464.1 L310.0,464.1 L311.0,464.1 L312.0,464.1 L313.0,464.1 L314.0,464.1 L315.0,464.1 L316.0,464.1 L317.0,464.1 L318.0,464.1 L319.0,464.1 L320.0,464.1 L321.0,464.1 L322.0,464.1 L323.0,464.1 L324.0,464.1 L325.0,464.1 L326.0,464.1 L327.0,464.1 L328.0,464.1 L329.0,464.1 L330.0,464.1 L331.0,464.1 L332.0,464.1 L333.0,464.1 L334.0,464.1 L335.0,464.1 L336.0,464.1 L337.0,464.0 L338.0,463.7 L339.0,463.2 L340.0,462.7 L341.0,462.2 L342.0,461.2 L343.0,460.8 L344.0,459.7 L345.0,458.2 L346.0,457.0 L347.0,455.3 L348.0,454.0 L349.0,453.1 L350.0,451.7 L351.0,450.3 L352.0,449.4 L353.0,448.5 L354.0,448.3 L355.0,447.8 L356.0,447.4 L357.0,448.3 L358.0,448.6 L359.0,449.1 L360.0,448.8 L361.0,448.9 L362.0,450.0 L363.0,451.0 L364.0,452.5 L365.0,453.5 L366.0,454.1 L367.0,455.2 L368.0,456.2 L369.0,456.9 L370.0,458.1 L371.0,458.8 L372.0,459.8 L373.0,459.8 L374.0,460.6 L375.0,461.1 L376.0,460.9 L377.0,461.0 L378.0,460.9 L379.0,460.7 L380.0,461.1 L381.0,460.8 L382.0,460.5 L383.0,461.0 L384.0,460.8 L385.0,460.5 L386.0,460.3 L387.0,460.8 L388.0,460.8 L389.0,460.5 L390.0,460.8 L391.0,461.2 L392.0,461.3 L393.0,461.1 L394.0,460.7 L395.0,460.7 L396.0,460.4 L397.0,460.5 L398.0,459.7 L399.0,459.7 L400.0,459.4 L401.0,459.6 L402.0,459.4 L403.0,458.8 L404.0,458.9 L405.0,458.0 L406.0,458.1 L407.0,458.1 L408.0,456.9 L409.0,456.5 L410.0,456.1 L411.0,455.7 L412.0,456.0 L413.0,456.6 L414.0,456.9 L415.0,456.2 L416.0,456.4 L417.0,456.3 L418.0,456.8 L419.0,457.0 L420.0,457.4 L421.0,457.5 L422.0,456.8 L423.0,456.4 L424.0,456.6 L425.0,456.2 L426.0,455.4 L427.0,455.6 L428.0,455.4 L429.0,455.0 L430.0,453.6 L431.0,453.7 L432.0,453.6 L433.0,453.8 L434.0,453.6 L435.0,453.1 L436.0,453.1 L437.0,453.8 L438.0,453.8 L439.0,453.4 L440.0,452.9 L441.0,451.8 L442.0,451.4 L443.0,450.0 L444.0,449.1 L445.0,447.5 L446.0,446.4 L447.0,446.5 L448.0,445.8 L449.0,444.9 L450.0,443.7 L451.0,443.1 L452.0,442.2 L453.0,441.3 L454.0,440.0 L455.0,439.4 L456.0,437.8 L457.0,437.0 L458.0,435.8 L459.0,434.0 L460.0,432.4 L461.0,430.8 L462.0,429.3 L463.0,427.0 L464.0,426.5 L465.0,425.5 L466.0,427.1 L467.0,430.0 L468.0,432.9 L469.0,434.3 L470.0,437.0 L471.0,439.3 L472.0,441.6 L473.0,443.5 L474.0,445.5 L475.0,447.8 L476.0,449.9 L477.0,452.4 L478.0,453.8 L479.0,455.4 L480.0,457.2 L481.0,458.6 L482.0,460.3 L483.0,461.0 L484.0,461.2 L485.0,462.2 L486.0,462.5 L487.0,463.0 L488.0,463.3 L489.0,463.5 L490.0,463.7 L491.0,463.7 L492.0,463.8 L493.0,464.0 L494.0,464.0 L495.0,464.1 L496.0,464.1 L497.0,464.1 L498.0,464.1 L499.0,464.1 L500.0,464.1 L501.0,464.1 L502.0,464.1 L503.0,464.1 L504.0,464.1 L505.0,464.1 L506.0,464.1 L507.0,464.1 L508.0,464.1 L509.0,464.1 L510.0,464.1 L511.0,464.1 L512.0,464.1 L513.0,464.1 L514.0,464.1 L515.0,464.1 L516.0,464.1 L517.0,464.1 L518.0,464.1 L519.0,464.1 L520.0,464.1 L521.0,464.1 L522.0,464.1 L523.0,464.1 L524.0,464.1 L525.0,464.1 L526.0,464.1 L526.6,464.1 L526.60,464.10 L304.00,464.10 Z" fill="#b7c29a" style="mix-blend-mode:multiply"/>
<path d="M304.0,464.1 L305.0,464.1 L306.0,464.1 L307.0,464.1 L308.0,464.1 L309.0,464.1 L310.0,464.1 L311.0,464.1 L312.0,464.1 L313.0,464.1 L314.0,464.1 L315.0,464.1 L316.0,464.1 L317.0,464.1 L318.0,464.1 L319.0,464.1 L320.0,464.1 L321.0,464.1 L322.0,464.1 L323.0,464.1 L324.0,464.1 L325.0,464.1 L326.0,464.1 L327.0,464.1 L328.0,464.1 L329.0,464.1 L330.0,464.1 L331.0,464.1 L332.0,464.1 L333.0,464.1 L334.0,464.1 L335.0,464.1 L336.0,464.1 L337.0,464.0 L338.0,463.7 L339.0,463.2 L340.0,462.7 L341.0,462.2 L342.0,461.2 L343.0,460.8 L344.0,459.7 L345.0,458.2 L346.0,457.0 L347.0,455.3 L348.0,454.0 L349.0,453.1 L350.0,451.7 L351.0,450.3 L352.0,449.4 L353.0,448.5 L354.0,448.3 L355.0,447.8 L356.0,447.4 L357.0,448.3 L358.0,448.6 L359.0,449.1 L360.0,448.8 L361.0,448.9 L362.0,450.0 L363.0,451.0 L364.0,452.5 L365.0,453.5 L366.0,454.1 L367.0,455.2 L368.0,456.2 L369.0,456.9 L370.0,458.1 L371.0,458.8 L372.0,459.8 L373.0,459.8 L374.0,460.6 L375.0,461.1 L376.0,460.9 L377.0,461.0 L378.0,460.9 L379.0,460.7 L380.0,461.1 L381.0,460.8 L382.0,460.5 L383.0,461.0 L384.0,460.8 L385.0,460.5 L386.0,460.3 L387.0,460.8 L388.0,460.8 L389.0,460.5 L390.0,460.8 L391.0,461.2 L392.0,461.3 L393.0,461.1 L394.0,460.7 L395.0,460.7 L396.0,460.4 L397.0,460.5 L398.0,459.7 L399.0,459.7 L400.0,459.4 L401.0,459.6 L402.0,459.4 L403.0,458.8 L404.0,458.9 L405.0,458.0 L406.0,458.1 L407.0,458.1 L408.0,456.9 L409.0,456.5 L410.0,456.1 L411.0,455.7 L412.0,456.0 L413.0,456.6 L414.0,456.9 L415.0,456.2 L416.0,456.4 L417.0,456.3 L418.0,456.8 L419.0,457.0 L420.0,457.4 L421.0,457.5 L422.0,456.8 L423.0,456.4 L424.0,456.6 L425.0,456.2 L426.0,455.4 L427.0,455.6 L428.0,455.4 L429.0,455.0 L430.0,453.6 L431.0,453.7 L432.0,453.6 L433.0,453.8 L434.0,453.6 L435.0,453.1 L436.0,453.1 L437.0,453.8 L438.0,453.8 L439.0,453.4 L440.0,452.9 L441.0,451.8 L442.0,451.4 L443.0,450.0 L444.0,449.1 L445.0,447.5 L446.0,446.4 L447.0,446.5 L448.0,445.8 L449.0,444.9 L450.0,443.7 L451.0,443.1 L452.0,442.2 L453.0,441.3 L454.0,440.0 L455.0,439.4 L456.0,437.8 L457.0,437.0 L458.0,435.8 L459.0,434.0 L460.0,432.4 L461.0,430.8 L462.0,429.3 L463.0,427.0 L464.0,426.5 L465.0,425.5 L466.0,427.1 L467.0,430.0 L468.0,432.9 L469.0,434.3 L470.0,437.0 L471.0,439.3 L472.0,441.6 L473.0,443.5 L474.0,445.5 L475.0,447.8 L476.0,449.9 L477.0,452.4 L478.0,453.8 L479.0,455.4 L480.0,457.2 L481.0,458.6 L482.0,460.3 L483.0,461.0 L484.0,461.2 L485.0,462.2 L486.0,462.5 L487.0,463.0 L488.0,463.3 L489.0,463.5 L490.0,463.7 L491.0,463.7 L492.0,463.8 L493.0,464.0 L494.0,464.0 L495.0,464.1 L496.0,464.1 L497.0,464.1 L498.0,464.1 L499.0,464.1 L500.0,464.1 L501.0,464.1 L502.0,464.1 L503.0,464.1 L504.0,464.1 L505.0,464.1 L506.0,464.1 L507.0,464.1 L508.0,464.1 L509.0,464.1 L510.0,464.1 L511.0,464.1 L512.0,464.1 L513.0,464.1 L514.0,464.1 L515.0,464.1 L516.0,464.1 L517.0,464.1 L518.0,464.1 L519.0,464.1 L520.0,464.1 L521.0,464.1 L522.0,464.1 L523.0,464.1 L524.0,464.1 L525.0,464.1 L526.0,464.1 L526.6,464.1" fill="none" stroke="#3a7430" stroke-width="1.5" stroke-linejoin="round"/>
<path d="M304.0,484.9 L305.0,484.9 L306.0,484.9 L307.0,484.9 L308.0,484.9 L309.0,484.9 L310.0,484.9 L311.0,484.9 L312.0,484.9 L313.0,484.9 L314.0,484.9 L315.0,484.9 L316.0,484.9 L317.0,484.9 L318.0,484.9 L319.0,484.9 L320.0,484.9 L321.0,484.9 L322.0,484.9 L323.0,484.9 L324.0,484.9 L325.0,484.9 L326.0,484.9 L327.0,484.9 L328.0,484.9 L329.0,484.9 L330.0,484.9 L331.0,484.9 L332.0,484.9 L333.0,484.9 L334.0,484.9 L335.0,484.8 L336.0,484.5 L337.0,483.8 L338.0,482.9 L339.0,481.9 L340.0,480.4 L341.0,479.7 L342.0,478.3 L343.0,477.4 L344.0,476.8 L345.0,475.4 L346.0,474.6 L347.0,473.6 L348.0,472.6 L349.0,471.4 L350.0,470.9 L351.0,469.7 L352.0,468.9 L353.0,468.8 L354.0,467.8 L355.0,467.9 L356.0,467.8 L357.0,467.1 L358.0,466.7 L359.0,466.5 L360.0,467.1 L361.0,467.4 L362.0,469.0 L363.0,469.2 L364.0,470.1 L365.0,472.0 L366.0,473.6 L367.0,475.3 L368.0,476.6 L369.0,477.7 L370.0,478.5 L371.0,479.6 L372.0,480.2 L373.0,480.4 L374.0,481.5 L375.0,481.3 L376.0,481.9 L377.0,482.2 L378.0,482.3 L379.0,482.5 L380.0,482.1 L381.0,481.9 L382.0,482.4 L383.0,482.2 L384.0,482.1 L385.0,482.5 L386.0,482.5 L387.0,482.5 L388.0,482.8 L389.0,482.6 L390.0,482.4 L391.0,482.3 L392.0,482.6 L393.0,482.3 L394.0,482.4 L395.0,482.7 L396.0,482.8 L397.0,482.2 L398.0,482.2 L399.0,481.8 L400.0,482.1 L401.0,481.6 L402.0,481.2 L403.0,481.0 L404.0,480.7 L405.0,481.0 L406.0,480.9 L407.0,481.1 L408.0,480.0 L409.0,479.4 L410.0,478.9 L411.0,478.2 L412.0,478.1 L413.0,478.2 L414.0,478.3 L415.0,478.1 L416.0,477.4 L417.0,477.2 L418.0,477.3 L419.0,476.5 L420.0,476.6 L421.0,476.1 L422.0,475.7 L423.0,476.2 L424.0,476.0 L425.0,475.8 L426.0,475.9 L427.0,475.3 L428.0,475.6 L429.0,474.8 L430.0,475.2 L431.0,474.9 L432.0,474.0 L433.0,473.9 L434.0,474.4 L435.0,474.2 L436.0,473.6 L437.0,473.2 L438.0,473.8 L439.0,474.0 L440.0,473.5 L441.0,473.1 L442.0,473.3 L443.0,473.2 L444.0,473.0 L445.0,472.9 L446.0,473.0 L447.0,472.7 L448.0,472.2 L449.0,471.6 L450.0,471.1 L451.0,470.5 L452.0,470.0 L453.0,469.7 L454.0,469.5 L455.0,469.0 L456.0,467.9 L457.0,466.8 L458.0,465.3 L459.0,464.8 L460.0,463.8 L461.0,462.6 L462.0,460.8 L463.0,459.1 L464.0,458.3 L465.0,456.7 L466.0,455.4 L467.0,454.1 L468.0,453.3 L469.0,451.9 L470.0,451.2 L471.0,450.0 L472.0,450.3 L473.0,450.6 L474.0,450.6 L475.0,450.2 L476.0,449.6 L477.0,448.5 L478.0,449.1 L479.0,450.4 L480.0,451.9 L481.0,453.8 L482.0,455.2 L483.0,457.2 L484.0,459.9 L485.0,462.8 L486.0,465.7 L487.0,468.4 L488.0,470.5 L489.0,474.2 L490.0,476.5 L491.0,479.0 L492.0,480.7 L493.0,481.5 L494.0,481.6 L495.0,482.5 L496.0,483.0 L497.0,483.6 L498.0,483.8 L499.0,484.0 L500.0,484.3 L501.0,484.5 L502.0,484.6 L503.0,484.8 L504.0,484.9 L505.0,484.9 L506.0,484.9 L507.0,484.9 L508.0,484.9 L509.0,484.9 L510.0,484.9 L511.0,484.9 L512.0,484.9 L513.0,484.9 L514.0,484.9 L515.0,484.9 L516.0,484.9 L517.0,484.9 L518.0,484.9 L519.0,484.9 L520.0,484.9 L521.0,484.9 L522.0,484.9 L523.0,484.9 L524.0,484.9 L525.0,484.9 L526.0,484.9 L526.6,484.9 L526.60,484.90 L304.00,484.90 Z" fill="#e2f2b8" style="mix-blend-mode:darken"/>
<path d="M304.0,484.9 L305.0,484.9 L306.0,484.9 L307.0,484.9 L308.0,484.9 L309.0,484.9 L310.0,484.9 L311.0,484.9 L312.0,484.9 L313.0,484.9 L314.0,484.9 L315.0,484.9 L316.0,484.9 L317.0,484.9 L318.0,484.9 L319.0,484.9 L320.0,484.9 L321.0,484.9 L322.0,484.9 L323.0,484.9 L324.0,484.9 L325.0,484.9 L326.0,484.9 L327.0,484.9 L328.0,484.9 L329.0,484.9 L330.0,484.9 L331.0,484.9 L332.0,484.9 L333.0,484.9 L334.0,484.9 L335.0,484.8 L336.0,484.5 L337.0,483.8 L338.0,482.9 L339.0,481.9 L340.0,480.4 L341.0,479.7 L342.0,478.3 L343.0,477.4 L344.0,476.8 L345.0,475.4 L346.0,474.6 L347.0,473.6 L348.0,472.6 L349.0,471.4 L350.0,470.9 L351.0,469.7 L352.0,468.9 L353.0,468.8 L354.0,467.8 L355.0,467.9 L356.0,467.8 L357.0,467.1 L358.0,466.7 L359.0,466.5 L360.0,467.1 L361.0,467.4 L362.0,469.0 L363.0,469.2 L364.0,470.1 L365.0,472.0 L366.0,473.6 L367.0,475.3 L368.0,476.6 L369.0,477.7 L370.0,478.5 L371.0,479.6 L372.0,480.2 L373.0,480.4 L374.0,481.5 L375.0,481.3 L376.0,481.9 L377.0,482.2 L378.0,482.3 L379.0,482.5 L380.0,482.1 L381.0,481.9 L382.0,482.4 L383.0,482.2 L384.0,482.1 L385.0,482.5 L386.0,482.5 L387.0,482.5 L388.0,482.8 L389.0,482.6 L390.0,482.4 L391.0,482.3 L392.0,482.6 L393.0,482.3 L394.0,482.4 L395.0,482.7 L396.0,482.8 L397.0,482.2 L398.0,482.2 L399.0,481.8 L400.0,482.1 L401.0,481.6 L402.0,481.2 L403.0,481.0 L404.0,480.7 L405.0,481.0 L406.0,480.9 L407.0,481.1 L408.0,480.0 L409.0,479.4 L410.0,478.9 L411.0,478.2 L412.0,478.1 L413.0,478.2 L414.0,478.3 L415.0,478.1 L416.0,477.4 L417.0,477.2 L418.0,477.3 L419.0,476.5 L420.0,476.6 L421.0,476.1 L422.0,475.7 L423.0,476.2 L424.0,476.0 L425.0,475.8 L426.0,475.9 L427.0,475.3 L428.0,475.6 L429.0,474.8 L430.0,475.2 L431.0,474.9 L432.0,474.0 L433.0,473.9 L434.0,474.4 L435.0,474.2 L436.0,473.6 L437.0,473.2 L438.0,473.8 L439.0,474.0 L440.0,473.5 L441.0,473.1 L442.0,473.3 L443.0,473.2 L444.0,473.0 L445.0,472.9 L446.0,473.0 L447.0,472.7 L448.0,472.2 L449.0,471.6 L450.0,471.1 L451.0,470.5 L452.0,470.0 L453.0,469.7 L454.0,469.5 L455.0,469.0 L456.0,467.9 L457.0,466.8 L458.0,465.3 L459.0,464.8 L460.0,463.8 L461.0,462.6 L462.0,460.8 L463.0,459.1 L464.0,458.3 L465.0,456.7 L466.0,455.4 L467.0,454.1 L468.0,453.3 L469.0,451.9 L470.0,451.2 L471.0,450.0 L472.0,450.3 L473.0,450.6 L474.0,450.6 L475.0,450.2 L476.0,449.6 L477.0,448.5 L478.0,449.1 L479.0,450.4 L480.0,451.9 L481.0,453.8 L482.0,455.2 L483.0,457.2 L484.0,459.9 L485.0,462.8 L486.0,465.7 L487.0,468.4 L488.0,470.5 L489.0,474.2 L490.0,476.5 L491.0,479.0 L492.0,480.7 L493.0,481.5 L494.0,481.6 L495.0,482.5 L496.0,483.0 L497.0,483.6 L498.0,483.8 L499.0,484.0 L500.0,484.3 L501.0,484.5 L502.0,484.6 L503.0,484.8 L504.0,484.9 L505.0,484.9 L506.0,484.9 L507.0,484.9 L508.0,484.9 L509.0,484.9 L510.0,484.9 L511.0,484.9 L512.0,484.9 L513.0,484.9 L514.0,484.9 L515.0,484.9 L516.0,484.9 L517.0,484.9 L518.0,484.9 L519.0,484.9 L520.0,484.9 L521.0,484.9 L522.0,484.9 L523.0,484.9 L524.0,484.9 L525.0,484.9 L526.0,484.9 L526.6,484.9" fill="none" stroke="#9acf1c" stroke-width="1.5" stroke-linejoin="round"/>
<path d="M304.0,505.7 L305.0,505.7 L306.0,505.7 L307.0,505.7 L308.0,505.7 L309.0,505.7 L310.0,505.7 L311.0,505.7 L312.0,505.7 L313.0,505.7 L314.0,505.7 L315.0,505.7 L316.0,505.7 L317.0,505.7 L318.0,505.7 L319.0,505.7 L320.0,505.7 L321.0,505.7 L322.0,505.7 L323.0,505.7 L324.0,505.7 L325.0,505.7 L326.0,505.7 L327.0,505.7 L328.0,505.7 L329.0,505.7 L330.0,505.7 L331.0,505.7 L332.0,505.7 L333.0,505.7 L334.0,505.7 L335.0,505.7 L336.0,505.7 L337.0,505.6 L338.0,505.1 L339.0,504.3 L340.0,503.6 L341.0,502.3 L342.0,501.1 L343.0,500.0 L344.0,498.8 L345.0,497.9 L346.0,496.9 L347.0,495.2 L348.0,492.9 L349.0,491.2 L350.0,489.4 L351.0,488.8 L352.0,487.0 L353.0,485.8 L354.0,484.6 L355.0,484.1 L356.0,484.9 L357.0,486.3 L358.0,487.4 L359.0,487.5 L360.0,485.9 L361.0,485.2 L362.0,486.9 L363.0,488.7 L364.0,490.6 L365.0,492.9 L366.0,494.7 L367.0,495.6 L368.0,496.5 L369.0,498.3 L370.0,499.3 L371.0,499.7 L372.0,500.5 L373.0,500.7 L374.0,501.8 L375.0,501.8 L376.0,502.1 L377.0,502.7 L378.0,502.6 L379.0,502.6 L380.0,502.8 L381.0,503.2 L382.0,503.5 L383.0,503.7 L384.0,503.8 L385.0,503.5 L386.0,503.6 L387.0,503.7 L388.0,503.8 L389.0,504.0 L390.0,503.7 L391.0,503.8 L392.0,503.9 L393.0,503.9 L394.0,503.9 L395.0,503.7 L396.0,503.6 L397.0,503.4 L398.0,503.7 L399.0,503.7 L400.0,503.7 L401.0,503.8 L402.0,503.8 L403.0,503.6 L404.0,503.1 L405.0,502.9 L406.0,502.7 L407.0,502.5 L408.0,502.6 L409.0,503.0 L410.0,503.2 L411.0,502.5 L412.0,502.6 L413.0,503.0 L414.0,502.8 L415.0,503.0 L416.0,502.3 L417.0,502.2 L418.0,502.6 L419.0,502.6 L420.0,502.5 L421.0,502.3 L422.0,502.3 L423.0,502.2 L424.0,502.3 L425.0,502.4 L426.0,501.7 L427.0,501.6 L428.0,501.5 L429.0,501.1 L430.0,501.5 L431.0,501.1 L432.0,500.7 L433.0,500.7 L434.0,500.2 L435.0,500.5 L436.0,500.0 L437.0,499.5 L438.0,499.3 L439.0,498.7 L440.0,498.1 L441.0,498.3 L442.0,498.0 L443.0,497.5 L444.0,497.5 L445.0,496.6 L446.0,496.8 L447.0,496.6 L448.0,495.9 L449.0,495.4 L450.0,494.7 L451.0,495.1 L452.0,495.1 L453.0,494.6 L454.0,494.2 L455.0,493.5 L456.0,493.5 L457.0,493.1 L458.0,493.3 L459.0,492.9 L460.0,492.3 L461.0,491.7 L462.0,491.4 L463.0,490.1 L464.0,489.3 L465.0,488.3 L466.0,487.8 L467.0,486.5 L468.0,485.8 L469.0,485.1 L470.0,484.6 L471.0,483.9 L472.0,483.2 L473.0,482.4 L474.0,481.1 L475.0,479.1 L476.0,477.4 L477.0,476.8 L478.0,476.0 L479.0,474.8 L480.0,473.4 L481.0,472.0 L482.0,470.8 L483.0,470.1 L484.0,469.3 L485.0,468.0 L486.0,467.3 L487.0,467.0 L488.0,468.3 L489.0,469.8 L490.0,472.1 L491.0,474.3 L492.0,478.2 L493.0,481.2 L494.0,484.7 L495.0,487.7 L496.0,490.6 L497.0,493.7 L498.0,495.9 L499.0,498.4 L500.0,500.2 L501.0,501.8 L502.0,502.6 L503.0,503.8 L504.0,504.2 L505.0,504.7 L506.0,505.1 L507.0,505.5 L508.0,505.7 L509.0,505.7 L510.0,505.7 L511.0,505.7 L512.0,505.7 L513.0,505.7 L514.0,505.7 L515.0,505.7 L516.0,505.7 L517.0,505.7 L518.0,505.7 L519.0,505.7 L520.0,505.7 L521.0,505.7 L522.0,505.7 L523.0,505.7 L524.0,505.7 L525.0,505.7 L526.0,505.7 L526.6,505.7 L526.60,505.70 L304.00,505.70 Z" fill="#fbd3ae" style="mix-blend-mode:multiply"/>
<path d="M304.0,505.7 L305.0,505.7 L306.0,505.7 L307.0,505.7 L308.0,505.7 L309.0,505.7 L310.0,505.7 L311.0,505.7 L312.0,505.7 L313.0,505.7 L314.0,505.7 L315.0,505.7 L316.0,505.7 L317.0,505.7 L318.0,505.7 L319.0,505.7 L320.0,505.7 L321.0,505.7 L322.0,505.7 L323.0,505.7 L324.0,505.7 L325.0,505.7 L326.0,505.7 L327.0,505.7 L328.0,505.7 L329.0,505.7 L330.0,505.7 L331.0,505.7 L332.0,505.7 L333.0,505.7 L334.0,505.7 L335.0,505.7 L336.0,505.7 L337.0,505.6 L338.0,505.1 L339.0,504.3 L340.0,503.6 L341.0,502.3 L342.0,501.1 L343.0,500.0 L344.0,498.8 L345.0,497.9 L346.0,496.9 L347.0,495.2 L348.0,492.9 L349.0,491.2 L350.0,489.4 L351.0,488.8 L352.0,487.0 L353.0,485.8 L354.0,484.6 L355.0,484.1 L356.0,484.9 L357.0,486.3 L358.0,487.4 L359.0,487.5 L360.0,485.9 L361.0,485.2 L362.0,486.9 L363.0,488.7 L364.0,490.6 L365.0,492.9 L366.0,494.7 L367.0,495.6 L368.0,496.5 L369.0,498.3 L370.0,499.3 L371.0,499.7 L372.0,500.5 L373.0,500.7 L374.0,501.8 L375.0,501.8 L376.0,502.1 L377.0,502.7 L378.0,502.6 L379.0,502.6 L380.0,502.8 L381.0,503.2 L382.0,503.5 L383.0,503.7 L384.0,503.8 L385.0,503.5 L386.0,503.6 L387.0,503.7 L388.0,503.8 L389.0,504.0 L390.0,503.7 L391.0,503.8 L392.0,503.9 L393.0,503.9 L394.0,503.9 L395.0,503.7 L396.0,503.6 L397.0,503.4 L398.0,503.7 L399.0,503.7 L400.0,503.7 L401.0,503.8 L402.0,503.8 L403.0,503.6 L404.0,503.1 L405.0,502.9 L406.0,502.7 L407.0,502.5 L408.0,502.6 L409.0,503.0 L410.0,503.2 L411.0,502.5 L412.0,502.6 L413.0,503.0 L414.0,502.8 L415.0,503.0 L416.0,502.3 L417.0,502.2 L418.0,502.6 L419.0,502.6 L420.0,502.5 L421.0,502.3 L422.0,502.3 L423.0,502.2 L424.0,502.3 L425.0,502.4 L426.0,501.7 L427.0,501.6 L428.0,501.5 L429.0,501.1 L430.0,501.5 L431.0,501.1 L432.0,500.7 L433.0,500.7 L434.0,500.2 L435.0,500.5 L436.0,500.0 L437.0,499.5 L438.0,499.3 L439.0,498.7 L440.0,498.1 L441.0,498.3 L442.0,498.0 L443.0,497.5 L444.0,497.5 L445.0,496.6 L446.0,496.8 L447.0,496.6 L448.0,495.9 L449.0,495.4 L450.0,494.7 L451.0,495.1 L452.0,495.1 L453.0,494.6 L454.0,494.2 L455.0,493.5 L456.0,493.5 L457.0,493.1 L458.0,493.3 L459.0,492.9 L460.0,492.3 L461.0,491.7 L462.0,491.4 L463.0,490.1 L464.0,489.3 L465.0,488.3 L466.0,487.8 L467.0,486.5 L468.0,485.8 L469.0,485.1 L470.0,484.6 L471.0,483.9 L472.0,483.2 L473.0,482.4 L474.0,481.1 L475.0,479.1 L476.0,477.4 L477.0,476.8 L478.0,476.0 L479.0,474.8 L480.0,473.4 L481.0,472.0 L482.0,470.8 L483.0,470.1 L484.0,469.3 L485.0,468.0 L486.0,467.3 L487.0,467.0 L488.0,468.3 L489.0,469.8 L490.0,472.1 L491.0,474.3 L492.0,478.2 L493.0,481.2 L494.0,484.7 L495.0,487.7 L496.0,490.6 L497.0,493.7 L498.0,495.9 L499.0,498.4 L500.0,500.2 L501.0,501.8 L502.0,502.6 L503.0,503.8 L504.0,504.2 L505.0,504.7 L506.0,505.1 L507.0,505.5 L508.0,505.7 L509.0,505.7 L510.0,505.7 L511.0,505.7 L512.0,505.7 L513.0,505.7 L514.0,505.7 L515.0,505.7 L516.0,505.7 L517.0,505.7 L518.0,505.7 L519.0,505.7 L520.0,505.7 L521.0,505.7 L522.0,505.7 L523.0,505.7 L524.0,505.7 L525.0,505.7 L526.0,505.7 L526.6,505.7" fill="none" stroke="#f5962e" stroke-width="1.5" stroke-linejoin="round"/>
<path d="M304.0,526.5 L305.0,526.5 L306.0,526.5 L307.0,526.5 L308.0,526.5 L309.0,526.5 L310.0,526.5 L311.0,526.5 L312.0,526.5 L313.0,526.5 L314.0,526.5 L315.0,526.5 L316.0,526.5 L317.0,526.5 L318.0,526.5 L319.0,526.5 L320.0,526.5 L321.0,526.5 L322.0,526.5 L323.0,526.5 L324.0,526.5 L325.0,526.5 L326.0,526.5 L327.0,526.5 L328.0,526.5 L329.0,526.5 L330.0,526.5 L331.0,526.5 L332.0,526.5 L333.0,526.5 L334.0,526.5 L335.0,526.4 L336.0,525.6 L337.0,524.7 L338.0,523.1 L339.0,521.4 L340.0,519.5 L341.0,517.5 L342.0,515.0 L343.0,513.6 L344.0,512.1 L345.0,510.3 L346.0,508.3 L347.0,506.0 L348.0,503.6 L349.0,502.3 L350.0,500.8 L351.0,499.0 L352.0,497.5 L353.0,497.3 L354.0,495.8 L355.0,495.8 L356.0,495.7 L357.0,495.9 L358.0,496.3 L359.0,496.9 L360.0,498.0 L361.0,498.3 L362.0,499.5 L363.0,501.1 L364.0,503.7 L365.0,505.4 L366.0,507.4 L367.0,509.1 L368.0,511.0 L369.0,512.7 L370.0,514.1 L371.0,515.5 L372.0,516.4 L373.0,517.7 L374.0,518.9 L375.0,519.2 L376.0,520.0 L377.0,520.6 L378.0,520.4 L379.0,520.4 L380.0,520.9 L381.0,521.4 L382.0,521.7 L383.0,521.5 L384.0,521.5 L385.0,521.8 L386.0,521.5 L387.0,521.6 L388.0,521.6 L389.0,521.6 L390.0,521.3 L391.0,521.5 L392.0,521.5 L393.0,520.6 L394.0,520.7 L395.0,520.2 L396.0,520.0 L397.0,518.9 L398.0,517.5 L399.0,517.4 L400.0,517.8 L401.0,517.7 L402.0,518.0 L403.0,517.9 L404.0,518.6 L405.0,518.1 L406.0,517.0 L407.0,516.9 L408.0,516.1 L409.0,514.9 L410.0,513.7 L411.0,513.3 L412.0,513.6 L413.0,513.1 L414.0,513.3 L415.0,512.8 L416.0,512.3 L417.0,512.4 L418.0,512.6 L419.0,512.3 L420.0,512.6 L421.0,512.2 L422.0,511.8 L423.0,511.9 L424.0,512.7 L425.0,512.2 L426.0,512.5 L427.0,512.1 L428.0,512.7 L429.0,512.2 L430.0,511.8 L431.0,511.8 L432.0,511.7 L433.0,511.5 L434.0,511.5 L435.0,512.1 L436.0,512.2 L437.0,511.6 L438.0,512.0 L439.0,512.0 L440.0,511.3 L441.0,511.2 L442.0,510.9 L443.0,510.4 L444.0,509.9 L445.0,508.8 L446.0,507.5 L447.0,507.7 L448.0,507.2 L449.0,507.0 L450.0,507.3 L451.0,507.5 L452.0,507.0 L453.0,506.3 L454.0,506.5 L455.0,506.8 L456.0,506.3 L457.0,506.2 L458.0,506.3 L459.0,505.8 L460.0,505.0 L461.0,504.4 L462.0,503.6 L463.0,503.2 L464.0,502.1 L465.0,501.2 L466.0,500.5 L467.0,499.3 L468.0,498.8 L469.0,497.1 L470.0,495.3 L471.0,493.6 L472.0,491.1 L473.0,488.9 L474.0,487.3 L475.0,487.8 L476.0,489.0 L477.0,490.1 L478.0,490.0 L479.0,490.7 L480.0,490.2 L481.0,490.7 L482.0,490.1 L483.0,489.8 L484.0,490.4 L485.0,491.3 L486.0,492.4 L487.0,492.5 L488.0,493.2 L489.0,495.2 L490.0,498.4 L491.0,500.4 L492.0,503.4 L493.0,506.4 L494.0,509.2 L495.0,511.8 L496.0,514.0 L497.0,516.4 L498.0,519.2 L499.0,521.4 L500.0,522.9 L501.0,524.0 L502.0,524.8 L503.0,525.3 L504.0,525.5 L505.0,525.9 L506.0,526.0 L507.0,526.2 L508.0,526.3 L509.0,526.4 L510.0,526.4 L511.0,526.5 L512.0,526.5 L513.0,526.5 L514.0,526.5 L515.0,526.5 L516.0,526.5 L517.0,526.5 L518.0,526.5 L519.0,526.5 L520.0,526.5 L521.0,526.5 L522.0,526.5 L523.0,526.5 L524.0,526.5 L525.0,526.5 L526.0,526.5 L526.6,526.5 L526.60,526.50 L304.00,526.50 Z" fill="#b5def2" fill-opacity="0.78"/>
<path d="M304.0,526.5 L305.0,526.5 L306.0,526.5 L307.0,526.5 L308.0,526.5 L309.0,526.5 L310.0,526.5 L311.0,526.5 L312.0,526.5 L313.0,526.5 L314.0,526.5 L315.0,526.5 L316.0,526.5 L317.0,526.5 L318.0,526.5 L319.0,526.5 L320.0,526.5 L321.0,526.5 L322.0,526.5 L323.0,526.5 L324.0,526.5 L325.0,526.5 L326.0,526.5 L327.0,526.5 L328.0,526.5 L329.0,526.5 L330.0,526.5 L331.0,526.5 L332.0,526.5 L333.0,526.5 L334.0,526.5 L335.0,526.4 L336.0,525.6 L337.0,524.7 L338.0,523.1 L339.0,521.4 L340.0,519.5 L341.0,517.5 L342.0,515.0 L343.0,513.6 L344.0,512.1 L345.0,510.3 L346.0,508.3 L347.0,506.0 L348.0,503.6 L349.0,502.3 L350.0,500.8 L351.0,499.0 L352.0,497.5 L353.0,497.3 L354.0,495.8 L355.0,495.8 L356.0,495.7 L357.0,495.9 L358.0,496.3 L359.0,496.9 L360.0,498.0 L361.0,498.3 L362.0,499.5 L363.0,501.1 L364.0,503.7 L365.0,505.4 L366.0,507.4 L367.0,509.1 L368.0,511.0 L369.0,512.7 L370.0,514.1 L371.0,515.5 L372.0,516.4 L373.0,517.7 L374.0,518.9 L375.0,519.2 L376.0,520.0 L377.0,520.6 L378.0,520.4 L379.0,520.4 L380.0,520.9 L381.0,521.4 L382.0,521.7 L383.0,521.5 L384.0,521.5 L385.0,521.8 L386.0,521.5 L387.0,521.6 L388.0,521.6 L389.0,521.6 L390.0,521.3 L391.0,521.5 L392.0,521.5 L393.0,520.6 L394.0,520.7 L395.0,520.2 L396.0,520.0 L397.0,518.9 L398.0,517.5 L399.0,517.4 L400.0,517.8 L401.0,517.7 L402.0,518.0 L403.0,517.9 L404.0,518.6 L405.0,518.1 L406.0,517.0 L407.0,516.9 L408.0,516.1 L409.0,514.9 L410.0,513.7 L411.0,513.3 L412.0,513.6 L413.0,513.1 L414.0,513.3 L415.0,512.8 L416.0,512.3 L417.0,512.4 L418.0,512.6 L419.0,512.3 L420.0,512.6 L421.0,512.2 L422.0,511.8 L423.0,511.9 L424.0,512.7 L425.0,512.2 L426.0,512.5 L427.0,512.1 L428.0,512.7 L429.0,512.2 L430.0,511.8 L431.0,511.8 L432.0,511.7 L433.0,511.5 L434.0,511.5 L435.0,512.1 L436.0,512.2 L437.0,511.6 L438.0,512.0 L439.0,512.0 L440.0,511.3 L441.0,511.2 L442.0,510.9 L443.0,510.4 L444.0,509.9 L445.0,508.8 L446.0,507.5 L447.0,507.7 L448.0,507.2 L449.0,507.0 L450.0,507.3 L451.0,507.5 L452.0,507.0 L453.0,506.3 L454.0,506.5 L455.0,506.8 L456.0,506.3 L457.0,506.2 L458.0,506.3 L459.0,505.8 L460.0,505.0 L461.0,504.4 L462.0,503.6 L463.0,503.2 L464.0,502.1 L465.0,501.2 L466.0,500.5 L467.0,499.3 L468.0,498.8 L469.0,497.1 L470.0,495.3 L471.0,493.6 L472.0,491.1 L473.0,488.9 L474.0,487.3 L475.0,487.8 L476.0,489.0 L477.0,490.1 L478.0,490.0 L479.0,490.7 L480.0,490.2 L481.0,490.7 L482.0,490.1 L483.0,489.8 L484.0,490.4 L485.0,491.3 L486.0,492.4 L487.0,492.5 L488.0,493.2 L489.0,495.2 L490.0,498.4 L491.0,500.4 L492.0,503.4 L493.0,506.4 L494.0,509.2 L495.0,511.8 L496.0,514.0 L497.0,516.4 L498.0,519.2 L499.0,521.4 L500.0,522.9 L501.0,524.0 L502.0,524.8 L503.0,525.3 L504.0,525.5 L505.0,525.9 L506.0,526.0 L507.0,526.2 L508.0,526.3 L509.0,526.4 L510.0,526.4 L511.0,526.5 L512.0,526.5 L513.0,526.5 L514.0,526.5 L515.0,526.5 L516.0,526.5 L517.0,526.5 L518.0,526.5 L519.0,526.5 L520.0,526.5 L521.0,526.5 L522.0,526.5 L523.0,526.5 L524.0,526.5 L525.0,526.5 L526.0,526.5 L526.6,526.5" fill="none" stroke="#6dbee6" stroke-width="1.5" stroke-linejoin="round"/>
<path d="M304.0,547.3 L305.0,547.3 L306.0,547.3 L307.0,547.3 L308.0,547.3 L309.0,547.3 L310.0,547.3 L311.0,547.3 L312.0,547.3 L313.0,547.3 L314.0,547.3 L315.0,547.3 L316.0,547.3 L317.0,547.3 L318.0,547.3 L319.0,547.3 L320.0,547.3 L321.0,547.3 L322.0,547.3 L323.0,547.3 L324.0,547.3 L325.0,547.3 L326.0,547.3 L327.0,547.3 L328.0,547.3 L329.0,547.3 L330.0,547.3 L331.0,547.3 L332.0,547.3 L333.0,547.3 L334.0,547.3 L335.0,547.3 L336.0,547.3 L337.0,547.3 L338.0,547.3 L339.0,547.2 L340.0,546.7 L341.0,546.1 L342.0,545.1 L343.0,544.5 L344.0,542.9 L345.0,541.4 L346.0,539.3 L347.0,536.8 L348.0,534.4 L349.0,531.5 L350.0,528.9 L351.0,525.8 L352.0,523.1 L353.0,520.5 L354.0,517.5 L355.0,515.3 L356.0,512.5 L357.0,508.7 L358.0,509.4 L359.0,510.8 L360.0,511.9 L361.0,512.0 L362.0,511.7 L363.0,513.2 L364.0,516.7 L365.0,519.2 L366.0,522.3 L367.0,525.5 L368.0,528.4 L369.0,530.5 L370.0,533.5 L371.0,535.6 L372.0,537.7 L373.0,539.4 L374.0,541.0 L375.0,542.1 L376.0,543.3 L377.0,544.7 L378.0,545.7 L379.0,546.6 L380.0,546.9 L381.0,547.0 L382.0,547.1 L383.0,547.2 L384.0,547.3 L385.0,547.3 L386.0,547.3 L387.0,547.3 L388.0,547.3 L389.0,547.3 L390.0,547.3 L391.0,547.3 L392.0,547.3 L393.0,547.3 L394.0,547.3 L395.0,547.3 L396.0,547.3 L397.0,547.3 L398.0,547.3 L399.0,547.3 L400.0,547.3 L401.0,547.3 L402.0,547.3 L403.0,547.3 L404.0,547.3 L405.0,547.3 L406.0,547.3 L407.0,547.3 L408.0,547.3 L409.0,547.3 L410.0,547.3 L411.0,547.3 L412.0,547.3 L413.0,547.3 L414.0,547.3 L415.0,547.3 L416.0,547.3 L417.0,547.3 L418.0,547.3 L419.0,547.3 L420.0,547.3 L421.0,547.3 L422.0,547.3 L423.0,547.3 L424.0,547.3 L425.0,547.3 L426.0,547.3 L427.0,547.3 L428.0,547.3 L429.0,547.3 L430.0,547.3 L431.0,547.3 L432.0,547.3 L433.0,547.3 L434.0,547.3 L435.0,547.3 L436.0,547.3 L437.0,547.3 L438.0,547.3 L439.0,547.3 L440.0,547.3 L441.0,547.3 L442.0,547.3 L443.0,547.3 L444.0,547.3 L445.0,547.3 L446.0,547.3 L447.0,547.3 L448.0,547.3 L449.0,547.3 L450.0,547.3 L451.0,547.3 L452.0,547.3 L453.0,547.3 L454.0,547.3 L455.0,547.3 L456.0,547.3 L457.0,547.3 L458.0,547.3 L459.0,547.3 L460.0,547.3 L461.0,547.3 L462.0,547.3 L463.0,547.3 L464.0,547.3 L465.0,547.3 L466.0,547.3 L467.0,547.3 L468.0,547.3 L469.0,547.3 L470.0,547.3 L471.0,547.3 L472.0,547.3 L473.0,547.3 L474.0,547.3 L475.0,547.3 L476.0,547.3 L477.0,547.3 L478.0,547.3 L479.0,547.3 L480.0,547.3 L481.0,547.3 L482.0,547.3 L483.0,547.3 L484.0,547.3 L485.0,547.3 L486.0,547.3 L487.0,547.3 L488.0,547.3 L489.0,547.3 L490.0,547.3 L491.0,547.3 L492.0,547.3 L493.0,547.3 L494.0,547.3 L495.0,547.3 L496.0,547.3 L497.0,547.3 L498.0,547.3 L499.0,547.3 L500.0,547.3 L501.0,547.3 L502.0,547.3 L503.0,547.3 L504.0,547.3 L505.0,547.3 L506.0,547.3 L507.0,547.3 L508.0,547.3 L509.0,547.3 L510.0,547.3 L511.0,547.3 L512.0,547.3 L513.0,547.3 L514.0,547.3 L515.0,547.3 L516.0,547.3 L517.0,547.3 L518.0,547.3 L519.0,547.3 L520.0,547.3 L521.0,547.3 L522.0,547.3 L523.0,547.3 L524.0,547.3 L525.0,547.3 L526.0,547.3 L526.6,547.3 L526.60,547.30 L304.00,547.30 Z" fill="#f9abb0" style="mix-blend-mode:darken"/>
<path d="M304.0,547.3 L305.0,547.3 L306.0,547.3 L307.0,547.3 L308.0,547.3 L309.0,547.3 L310.0,547.3 L311.0,547.3 L312.0,547.3 L313.0,547.3 L314.0,547.3 L315.0,547.3 L316.0,547.3 L317.0,547.3 L318.0,547.3 L319.0,547.3 L320.0,547.3 L321.0,547.3 L322.0,547.3 L323.0,547.3 L324.0,547.3 L325.0,547.3 L326.0,547.3 L327.0,547.3 L328.0,547.3 L329.0,547.3 L330.0,547.3 L331.0,547.3 L332.0,547.3 L333.0,547.3 L334.0,547.3 L335.0,547.3 L336.0,547.3 L337.0,547.3 L338.0,547.3 L339.0,547.2 L340.0,546.7 L341.0,546.1 L342.0,545.1 L343.0,544.5 L344.0,542.9 L345.0,541.4 L346.0,539.3 L347.0,536.8 L348.0,534.4 L349.0,531.5 L350.0,528.9 L351.0,525.8 L352.0,523.1 L353.0,520.5 L354.0,517.5 L355.0,515.3 L356.0,512.5 L357.0,508.7 L358.0,509.4 L359.0,510.8 L360.0,511.9 L361.0,512.0 L362.0,511.7 L363.0,513.2 L364.0,516.7 L365.0,519.2 L366.0,522.3 L367.0,525.5 L368.0,528.4 L369.0,530.5 L370.0,533.5 L371.0,535.6 L372.0,537.7 L373.0,539.4 L374.0,541.0 L375.0,542.1 L376.0,543.3 L377.0,544.7 L378.0,545.7 L379.0,546.6 L380.0,546.9 L381.0,547.0 L382.0,547.1 L383.0,547.2 L384.0,547.3 L385.0,547.3 L386.0,547.3 L387.0,547.3 L388.0,547.3 L389.0,547.3 L390.0,547.3 L391.0,547.3 L392.0,547.3 L393.0,547.3 L394.0,547.3 L395.0,547.3 L396.0,547.3 L397.0,547.3 L398.0,547.3 L399.0,547.3 L400.0,547.3 L401.0,547.3 L402.0,547.3 L403.0,547.3 L404.0,547.3 L405.0,547.3 L406.0,547.3 L407.0,547.3 L408.0,547.3 L409.0,547.3 L410.0,547.3 L411.0,547.3 L412.0,547.3 L413.0,547.3 L414.0,547.3 L415.0,547.3 L416.0,547.3 L417.0,547.3 L418.0,547.3 L419.0,547.3 L420.0,547.3 L421.0,547.3 L422.0,547.3 L423.0,547.3 L424.0,547.3 L425.0,547.3 L426.0,547.3 L427.0,547.3 L428.0,547.3 L429.0,547.3 L430.0,547.3 L431.0,547.3 L432.0,547.3 L433.0,547.3 L434.0,547.3 L435.0,547.3 L436.0,547.3 L437.0,547.3 L438.0,547.3 L439.0,547.3 L440.0,547.3 L441.0,547.3 L442.0,547.3 L443.0,547.3 L444.0,547.3 L445.0,547.3 L446.0,547.3 L447.0,547.3 L448.0,547.3 L449.0,547.3 L450.0,547.3 L451.0,547.3 L452.0,547.3 L453.0,547.3 L454.0,547.3 L455.0,547.3 L456.0,547.3 L457.0,547.3 L458.0,547.3 L459.0,547.3 L460.0,547.3 L461.0,547.3 L462.0,547.3 L463.0,547.3 L464.0,547.3 L465.0,547.3 L466.0,547.3 L467.0,547.3 L468.0,547.3 L469.0,547.3 L470.0,547.3 L471.0,547.3 L472.0,547.3 L473.0,547.3 L474.0,547.3 L475.0,547.3 L476.0,547.3 L477.0,547.3 L478.0,547.3 L479.0,547.3 L480.0,547.3 L481.0,547.3 L482.0,547.3 L483.0,547.3 L484.0,547.3 L485.0,547.3 L486.0,547.3 L487.0,547.3 L488.0,547.3 L489.0,547.3 L490.0,547.3 L491.0,547.3 L492.0,547.3 L493.0,547.3 L494.0,547.3 L495.0,547.3 L496.0,547.3 L497.0,547.3 L498.0,547.3 L499.0,547.3 L500.0,547.3 L501.0,547.3 L502.0,547.3 L503.0,547.3 L504.0,547.3 L505.0,547.3 L506.0,547.3 L507.0,547.3 L508.0,547.3 L509.0,547.3 L510.0,547.3 L511.0,547.3 L512.0,547.3 L513.0,547.3 L514.0,547.3 L515.0,547.3 L516.0,547.3 L517.0,547.3 L518.0,547.3 L519.0,547.3 L520.0,547.3 L521.0,547.3 L522.0,547.3 L523.0,547.3 L524.0,547.3 L525.0,547.3 L526.0,547.3 L526.6,547.3" fill="none" stroke="#e53e40" stroke-width="1.5" stroke-linejoin="round"/>
</g>
<path d="M54.5,547.3 L54.5,335.5 L280.3,335.5 L280.3,547.3" fill="none" stroke="#6d6e71" stroke-width="1"/>
<path d="M304.0,547.5 L304.0,334.5 L526.6,334.5 L526.6,547.5" fill="none" stroke="#6d6e71" stroke-width="1"/>
<path d="M64.30,547.3v5.5 M95.00,547.3v5.5 M121.60,547.3v5.5 M168.30,547.3v5.5 M215.10,547.3v5.5 M261.10,547.3v5.5 M56.20,547.3v2.8 M59.10,547.3v2.8 M69.50,547.3v2.8 M75.80,547.3v2.8 M84.30,547.3v2.8 M97.10,547.3v2.8 M100.10,547.3v2.8 M102.80,547.3v2.8 M104.40,547.3v2.8 M112.20,547.3v2.8 M115.30,547.3v2.8 M118.30,547.3v2.8 M132.30,547.3v2.8 M140.90,547.3v2.8 M146.80,547.3v2.8 M156.40,547.3v2.8 M159.10,547.3v2.8 M161.40,547.3v2.8 M163.20,547.3v2.8 M165.50,547.3v2.8 M182.27,547.3v2.8 M190.43,547.3v2.8 M196.23,547.3v2.8 M200.73,547.3v2.8 M204.40,547.3v2.8 M207.51,547.3v2.8 M210.20,547.3v2.8 M212.57,547.3v2.8 M229.07,547.3v2.8 M237.23,547.3v2.8 M243.03,547.3v2.8 M247.53,547.3v2.8 M251.20,547.3v2.8 M254.31,547.3v2.8 M257.00,547.3v2.8 M259.37,547.3v2.8 M275.07,547.3v2.8 M152.30,547.3v4.2" stroke="#000" stroke-width="1.4" fill="none"/><rect x="106.20" y="547.3" width="3.60" height="5.5" fill="#000"/>
<path d="M313.66,547.5v5.5 M343.93,547.5v5.5 M370.15,547.5v5.5 M416.19,547.5v5.5 M462.32,547.5v5.5 M507.67,547.5v5.5 M305.68,547.5v2.8 M308.53,547.5v2.8 M318.79,547.5v2.8 M325.00,547.5v2.8 M333.38,547.5v2.8 M346.00,547.5v2.8 M348.95,547.5v2.8 M351.62,547.5v2.8 M353.19,547.5v2.8 M360.88,547.5v2.8 M363.94,547.5v2.8 M366.90,547.5v2.8 M380.70,547.5v2.8 M389.18,547.5v2.8 M394.99,547.5v2.8 M404.46,547.5v2.8 M407.12,547.5v2.8 M409.39,547.5v2.8 M411.16,547.5v2.8 M413.43,547.5v2.8 M429.96,547.5v2.8 M438.01,547.5v2.8 M443.72,547.5v2.8 M448.16,547.5v2.8 M451.77,547.5v2.8 M454.84,547.5v2.8 M457.49,547.5v2.8 M459.83,547.5v2.8 M476.09,547.5v2.8 M484.14,547.5v2.8 M489.86,547.5v2.8 M494.30,547.5v2.8 M497.91,547.5v2.8 M500.98,547.5v2.8 M503.63,547.5v2.8 M505.96,547.5v2.8 M521.44,547.5v2.8 M400.41,547.5v4.2" stroke="#000" stroke-width="1.4" fill="none"/><rect x="354.97" y="547.5" width="3.55" height="5.5" fill="#000"/>
<text x="111.80" y="567.2" style="font-size:6.6px" text-anchor="middle">0</text>
<text x="168.30" y="567.2" style="font-size:6.6px">10</text>
<text x="178.50" y="561.2" style="font-size:6.6px">3</text>
<text x="215.10" y="567.2" style="font-size:6.6px">10</text>
<text x="225.30" y="561.2" style="font-size:6.6px">4</text>
<text x="261.10" y="567.2" style="font-size:6.6px">10</text>
<text x="271.30" y="561.2" style="font-size:6.6px">5</text>
<text x="360.49" y="567.8" style="font-size:6.6px" text-anchor="middle">0</text>
<text x="416.19" y="567.8" style="font-size:6.6px">10</text>
<text x="426.39" y="561.8" style="font-size:6.6px">3</text>
<text x="462.32" y="567.8" style="font-size:6.6px">10</text>
<text x="472.52" y="561.8" style="font-size:6.6px">4</text>
<text x="507.67" y="567.8" style="font-size:6.6px">10</text>
<text x="517.87" y="561.8" style="font-size:6.6px">5</text>
<text x="163.9" y="587.4" style="font-size:8.8px" text-anchor="middle">PE-A</text>
<text x="165.5" y="604.1" style="font-size:13.35px" text-anchor="middle">PF-07062119</text>
<text x="412" y="589" style="font-size:8.8px" text-anchor="middle">PE-A</text>
<text x="412.6" y="604.5" style="font-size:13.4px" text-anchor="middle">anti-V5</text>
<line x1="45.6" y1="345" x2="45.6" y2="545.6" stroke="#111" stroke-width="1.3"/>
<path d="M45.6,340.8 L49.6,346.2 L41.6,346.2 Z" fill="#111"/>
<text transform="translate(20.9,440.8) rotate(-90)" style="font-size:11px" text-anchor="middle">Events Count</text>
<text transform="translate(37.9,440.8) rotate(-90)" style="font-size:11px" text-anchor="middle">Normalized to mode</text>
<path d="M542.6,375.9 V523.0 M563.6,375.9 V523.0 M542.6,376.5 H566.5 M542.6,392.7 H566.5 M542.6,408.9 H566.5 M542.6,425.1 H566.5 M542.6,441.3 H566.5 M542.6,457.6 H566.5 M542.6,473.8 H566.5 M542.6,490.0 H566.5 M542.6,506.2 H566.5 M542.6,522.4 H566.5" stroke="#231f20" stroke-width="1.2" fill="none"/>
<rect x="547" y="380.4" width="11" height="8" fill="#faeca2" stroke="#f0d818" stroke-width="2"/>
<text x="567.2" y="392.6" style="font-size:13.6px">Negative ctrl</text>
<rect x="547" y="396.6" width="11" height="8" fill="#b8eaea" stroke="#2ea3a6" stroke-width="2"/>
<text x="567.2" y="408.8" style="font-size:13.6px">Zebrafish</text>
<rect x="547" y="412.8" width="11" height="8" fill="#dda2e4" stroke="#9c30c4" stroke-width="2"/>
<text x="567.2" y="425.0" style="font-size:13.6px">Xenopus</text>
<rect x="547" y="429.0" width="11" height="8" fill="#f0dada" stroke="#dba5a5" stroke-width="2"/>
<text x="567.2" y="441.2" style="font-size:13.6px">Chicken</text>
<rect x="547" y="445.2" width="11" height="8" fill="#b7c29a" stroke="#3a7430" stroke-width="2"/>
<text x="567.2" y="457.4" style="font-size:13.6px">Platypus</text>
<rect x="547" y="461.4" width="11" height="8" fill="#e2f2b8" stroke="#9acf1c" stroke-width="2"/>
<text x="567.2" y="473.7" style="font-size:13.6px">Opposuum</text>
<rect x="547" y="477.7" width="11" height="8" fill="#fbd3ae" stroke="#f5962e" stroke-width="2"/>
<text x="567.2" y="489.9" style="font-size:13.6px">Rat</text>
<rect x="547" y="493.9" width="11" height="8" fill="#bee1f3" stroke="#6dbee6" stroke-width="2"/>
<text x="567.2" y="506.1" style="font-size:13.6px">Human</text>
<rect x="547" y="510.1" width="11" height="8" fill="#f9abb0" stroke="#e53e40" stroke-width="2"/>
<text x="567.2" y="522.3" style="font-size:13.6px">Secondary only</text>
<text x="0.5" y="650.6" class="pl">d)</text>
<path d="M94,652 V850 H401.5 V652 H89.7" fill="none" stroke="#111" stroke-width="1.6"/>
<path d="M89.7,850.00 H94 M89.7,800.50 H94 M89.7,751.00 H94 M89.7,701.50 H94 M89.7,652.00 H94 M118.70,850 V854.6 M155.53,850 V854.6 M192.36,850 V854.6 M229.19,850 V854.6 M266.02,850 V854.6 M302.85,850 V854.6 M339.68,850 V854.6 M376.51,850 V854.6" stroke="#111" stroke-width="1.5" fill="none"/>
<text x="87.8" y="854.20" style="font-size:12.4px" text-anchor="end">0</text>
<text x="87.8" y="804.70" style="font-size:12.4px" text-anchor="end">50</text>
<text x="87.8" y="755.20" style="font-size:12.4px" text-anchor="end">100</text>
<text x="87.8" y="705.70" style="font-size:12.4px" text-anchor="end">150</text>
<text x="87.8" y="656.20" style="font-size:12.4px" text-anchor="end">200</text>
<rect x="106.50" y="751.00" width="24.4" height="99.00" fill="#000"/>
<path d="M118.70,751.00 V700.91 M113.90,700.91 H123.50" stroke="#000" stroke-width="1.6" fill="none"/>
<rect x="143.33" y="828.22" width="24.4" height="21.78" fill="#000"/>
<path d="M155.53,828.22 V816.34 M149.13,816.34 H161.93" stroke="#000" stroke-width="1.6" fill="none"/>
<rect x="180.16" y="825.25" width="24.4" height="24.75" fill="#000"/>
<path d="M192.36,825.25 V813.37 M186.26,813.37 H198.46" stroke="#000" stroke-width="1.6" fill="none"/>
<text x="160" y="807.6" style="font-size:11.6px" text-anchor="middle">P=0.0064</text>
<text x="201.4" y="790.5" style="font-size:11.6px" text-anchor="middle">P=0.0084</text>
<text x="299.9" y="817.3" style="font-size:11.6px" text-anchor="middle">P=0.0001</text>
<path d="M220.6,835.6 V830.3 H383.4 V835.6 M301.6,830.3 V821.8" stroke="#111" stroke-width="1.6" fill="none"/>
<text transform="translate(123.70,863.5) rotate(-45)" style="font-size:12.9px" text-anchor="end">Human</text>
<text transform="translate(160.53,863.5) rotate(-45)" style="font-size:12.9px" text-anchor="end">Rat</text>
<text transform="translate(197.36,863.5) rotate(-45)" style="font-size:12.9px" text-anchor="end">Opossum</text>
<text transform="translate(234.19,863.5) rotate(-45)" style="font-size:12.9px" text-anchor="end">Platypus</text>
<text transform="translate(271.02,863.5) rotate(-45)" style="font-size:12.9px" text-anchor="end">Chicken</text>
<text transform="translate(307.85,863.5) rotate(-45)" style="font-size:12.9px" text-anchor="end">Xenopus</text>
<text transform="translate(344.68,863.5) rotate(-45)" style="font-size:12.9px" text-anchor="end">Zebrafish</text>
<text transform="translate(381.51,863.5) rotate(-45)" style="font-size:12.9px" text-anchor="end">Neg Ctrl</text>
<text x="223.8" y="916.8" style="font-size:13.45px" text-anchor="middle">Yeast Constructs</text>
<text transform="translate(38.4,747.1) rotate(-90)" style="font-size:13.2px" text-anchor="middle">Ratio of</text>
<text transform="translate(54.2,745) rotate(-90)" style="font-size:13.2px" text-anchor="middle">MFI PF-07062119/ MFI V5</text>
</svg>
</body></html>
